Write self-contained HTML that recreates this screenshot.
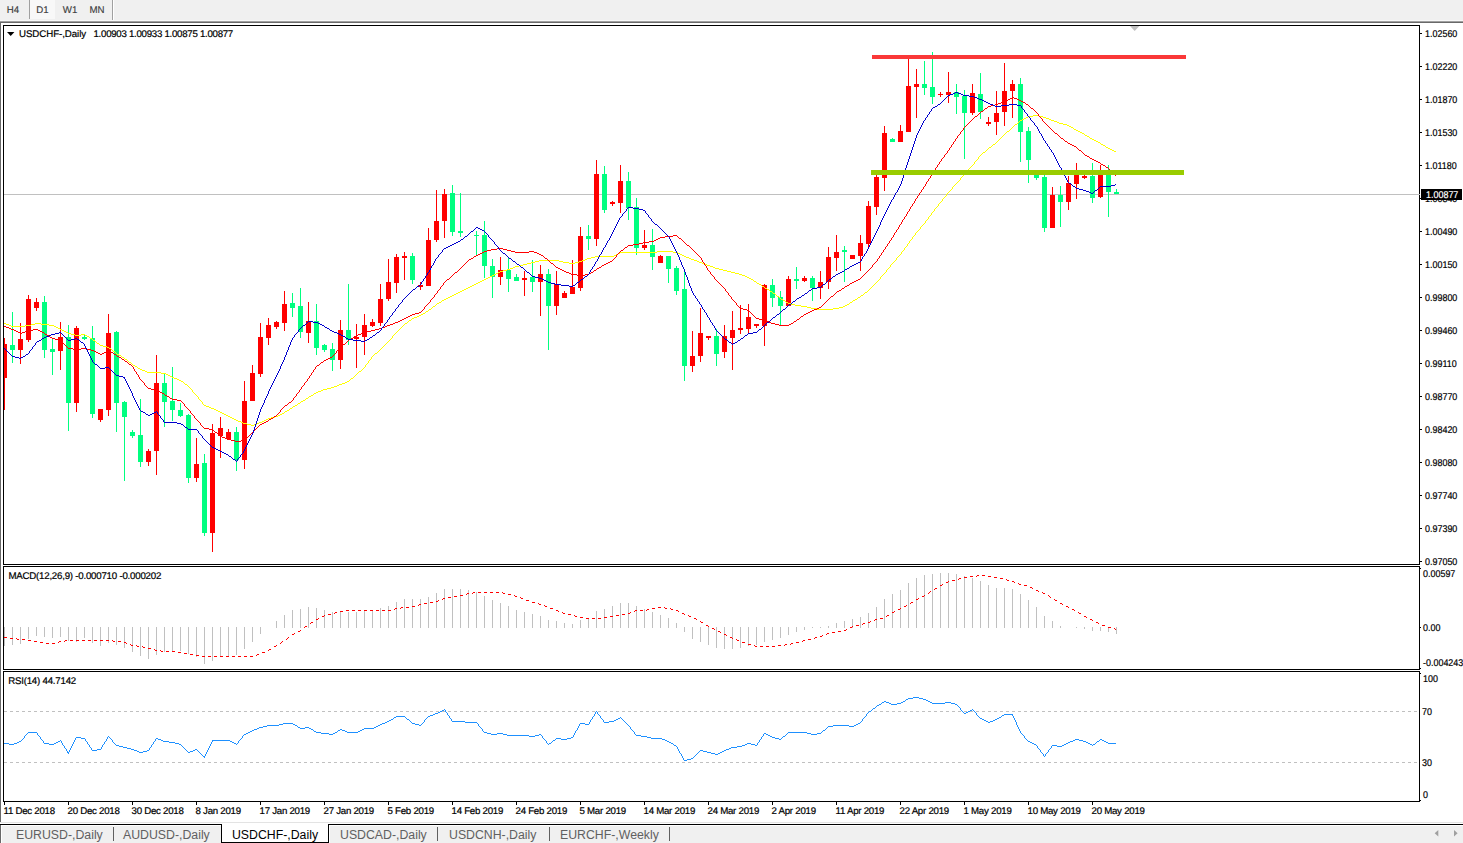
<!DOCTYPE html>
<html><head><meta charset="utf-8"><title>USDCHF-,Daily</title>
<style>
html,body{margin:0;padding:0;background:#fff;}
body{width:1463px;height:843px;position:relative;overflow:hidden;font-family:"Liberation Sans",sans-serif;}
#toolbar{position:absolute;left:0;top:0;width:1463px;height:21px;background:#f0f0f0;}
#tbline1{position:absolute;left:0;top:21px;width:1463px;height:1px;background:#a0a0a0;}
#tbline2{position:absolute;left:0;top:22px;width:1463px;height:1px;background:#696969;}
#tbline3{position:absolute;left:0;top:20px;width:1463px;height:1px;background:#f8f8f8;}
.tb{position:absolute;top:0;height:19px;line-height:22px;font-size:9.7px;color:#404040;text-align:center;text-rendering:geometricPrecision;-webkit-text-stroke:0.15px #404040;}
#d1{background:#f8f8f8;}
.sep{position:absolute;top:0;width:1px;background:#a0a0a0;}
#leftedge{position:absolute;left:0;top:23px;width:1px;height:799px;background:#696969;}
#botl1{position:absolute;left:0;top:822px;width:1463px;height:1px;background:#e3e3e3;}
#tabs{position:absolute;left:0;top:824px;width:1463px;height:19px;background:#f0f0f0;border-top:1px solid #000;box-sizing:border-box;}
.tab{position:absolute;top:1px;height:18px;line-height:19px;font-size:12.3px;color:#606060;white-space:nowrap;}
.hl{position:absolute;background:#fff;}
.tsep{position:absolute;top:2px;width:1px;height:14px;background:#606060;}
#active{position:absolute;left:221px;top:-1px;width:108px;height:19px;background:#fff;border:1px solid #000;border-top:none;box-sizing:border-box;color:#000;font-size:12.3px;line-height:22px;text-align:center;}
svg{position:absolute;left:0;top:0;}
.t{position:absolute;white-space:nowrap;color:#000;line-height:10px;height:10px;text-rendering:geometricPrecision;margin-top:1px;}
.ax{font-size:9.8px;transform:scaleX(.913);transform-origin:0 0;-webkit-text-stroke:0.2px #000;}
.dt{font-size:9.7px;letter-spacing:-0.26px;-webkit-text-stroke:0.2px #000;}
.ti{font-size:9.7px;letter-spacing:-0.22px;-webkit-text-stroke:0.2px #000;}
</style></head><body>
<div id="toolbar">
<div class="tb" style="left:0;width:26px">H4</div>
<div class="sep" style="left:29px;height:19px"></div>
<div class="tb" id="d1" style="left:30px;width:25px">D1</div>
<div class="tb" style="left:58px;width:24px">W1</div>
<div class="tb" style="left:85px;width:24px">MN</div>
<div class="sep" style="left:112px;height:21px"></div><div class="sep" style="left:113px;height:20px;background:#fff"></div>
</div>
<div id="tbline1"></div><div id="tbline2"></div><div id="tbline3"></div>
<div id="leftedge"></div>
<svg width="1463" height="843" viewBox="0 0 1463 843">
<rect x="3" y="25" width="1417" height="1" fill="#000"/>
<rect x="3" y="564" width="1417" height="1" fill="#000"/>
<rect x="3" y="25" width="1" height="540" fill="#000"/>
<rect x="1419" y="25" width="1" height="540" fill="#000"/>
<rect x="3" y="566" width="1417" height="1" fill="#000"/>
<rect x="3" y="669" width="1417" height="1" fill="#000"/>
<rect x="3" y="566" width="1" height="104" fill="#000"/>
<rect x="1419" y="566" width="1" height="104" fill="#000"/>
<rect x="3" y="671" width="1417" height="1" fill="#000"/>
<rect x="3" y="801" width="1417" height="1" fill="#000"/>
<rect x="3" y="671" width="1" height="131" fill="#000"/>
<rect x="1419" y="671" width="1" height="131" fill="#000"/>
<rect x="1420" y="33" width="2" height="1" fill="#000"/>
<rect x="1420" y="66" width="2" height="1" fill="#000"/>
<rect x="1420" y="99" width="2" height="1" fill="#000"/>
<rect x="1420" y="132" width="2" height="1" fill="#000"/>
<rect x="1420" y="165" width="2" height="1" fill="#000"/>
<rect x="1420" y="198" width="2" height="1" fill="#000"/>
<rect x="1420" y="231" width="2" height="1" fill="#000"/>
<rect x="1420" y="264" width="2" height="1" fill="#000"/>
<rect x="1420" y="297" width="2" height="1" fill="#000"/>
<rect x="1420" y="330" width="2" height="1" fill="#000"/>
<rect x="1420" y="363" width="2" height="1" fill="#000"/>
<rect x="1420" y="396" width="2" height="1" fill="#000"/>
<rect x="1420" y="429" width="2" height="1" fill="#000"/>
<rect x="1420" y="462" width="2" height="1" fill="#000"/>
<rect x="1420" y="495" width="2" height="1" fill="#000"/>
<rect x="1420" y="528" width="2" height="1" fill="#000"/>
<rect x="1420" y="561" width="2" height="1" fill="#000"/>
<rect x="1420" y="568" width="1" height="1" fill="#000"/>
<rect x="1420" y="627" width="1" height="1" fill="#000"/>
<rect x="1420" y="668" width="1" height="1" fill="#000"/>
<rect x="1420" y="673" width="1" height="1" fill="#000"/>
<rect x="1420" y="800" width="1" height="1" fill="#000"/>
<rect x="4" y="802" width="1" height="3" fill="#000"/>
<rect x="68" y="802" width="1" height="3" fill="#000"/>
<rect x="132" y="802" width="1" height="3" fill="#000"/>
<rect x="196" y="802" width="1" height="3" fill="#000"/>
<rect x="260" y="802" width="1" height="3" fill="#000"/>
<rect x="324" y="802" width="1" height="3" fill="#000"/>
<rect x="388" y="802" width="1" height="3" fill="#000"/>
<rect x="452" y="802" width="1" height="3" fill="#000"/>
<rect x="516" y="802" width="1" height="3" fill="#000"/>
<rect x="580" y="802" width="1" height="3" fill="#000"/>
<rect x="644" y="802" width="1" height="3" fill="#000"/>
<rect x="708" y="802" width="1" height="3" fill="#000"/>
<rect x="772" y="802" width="1" height="3" fill="#000"/>
<rect x="836" y="802" width="1" height="3" fill="#000"/>
<rect x="900" y="802" width="1" height="3" fill="#000"/>
<rect x="964" y="802" width="1" height="3" fill="#000"/>
<rect x="1028" y="802" width="1" height="3" fill="#000"/>
<rect x="1092" y="802" width="1" height="3" fill="#000"/>
<rect x="4" y="194" width="1416" height="1" fill="#c0c0c0"/>
<path d="M1130 26h9.4l-4.7 5z" fill="#c0c0c0"/>
<clipPath id="cm"><rect x="4" y="26" width="1415" height="538"/></clipPath>
<g clip-path="url(#cm)" shape-rendering="crispEdges">
<rect x="4" y="338" width="1" height="72" fill="#ff0000"/>
<rect x="2" y="344" width="5" height="34" fill="#ff0000"/>
<rect x="12" y="312" width="1" height="51" fill="#00ff80"/>
<rect x="10" y="345" width="5" height="5" fill="#00ff80"/>
<rect x="20" y="323" width="1" height="41" fill="#ff0000"/>
<rect x="18" y="339" width="5" height="11" fill="#ff0000"/>
<rect x="28" y="295" width="1" height="47" fill="#ff0000"/>
<rect x="26" y="299" width="5" height="41" fill="#ff0000"/>
<rect x="36" y="298" width="1" height="13" fill="#ff0000"/>
<rect x="34" y="302" width="5" height="6" fill="#ff0000"/>
<rect x="44" y="296" width="1" height="62" fill="#00ff80"/>
<rect x="42" y="302" width="5" height="48" fill="#00ff80"/>
<rect x="52" y="339" width="1" height="36" fill="#00ff80"/>
<rect x="50" y="349" width="5" height="3" fill="#00ff80"/>
<rect x="60" y="322" width="1" height="48" fill="#ff0000"/>
<rect x="58" y="337" width="5" height="14" fill="#ff0000"/>
<rect x="68" y="325" width="1" height="106" fill="#00ff80"/>
<rect x="66" y="337" width="5" height="66" fill="#00ff80"/>
<rect x="76" y="326" width="1" height="86" fill="#ff0000"/>
<rect x="74" y="328" width="5" height="75" fill="#ff0000"/>
<rect x="84" y="335" width="1" height="5" fill="#00ff80"/>
<rect x="82" y="337" width="5" height="2" fill="#00ff80"/>
<rect x="92" y="326" width="1" height="92" fill="#00ff80"/>
<rect x="90" y="338" width="5" height="76" fill="#00ff80"/>
<rect x="100" y="409" width="1" height="13" fill="#ff0000"/>
<rect x="98" y="409" width="5" height="11" fill="#ff0000"/>
<rect x="108" y="314" width="1" height="102" fill="#ff0000"/>
<rect x="106" y="333" width="5" height="77" fill="#ff0000"/>
<rect x="116" y="331" width="1" height="101" fill="#00ff80"/>
<rect x="114" y="332" width="5" height="71" fill="#00ff80"/>
<rect x="124" y="401" width="1" height="80" fill="#00ff80"/>
<rect x="122" y="402" width="5" height="15" fill="#00ff80"/>
<rect x="132" y="430" width="1" height="8" fill="#00ff80"/>
<rect x="130" y="432" width="5" height="4" fill="#00ff80"/>
<rect x="140" y="399" width="1" height="68" fill="#00ff80"/>
<rect x="138" y="435" width="5" height="27" fill="#00ff80"/>
<rect x="148" y="449" width="1" height="17" fill="#ff0000"/>
<rect x="146" y="451" width="5" height="11" fill="#ff0000"/>
<rect x="156" y="355" width="1" height="120" fill="#ff0000"/>
<rect x="154" y="383" width="5" height="68" fill="#ff0000"/>
<rect x="164" y="374" width="1" height="53" fill="#00ff80"/>
<rect x="162" y="383" width="5" height="19" fill="#00ff80"/>
<rect x="172" y="367" width="1" height="54" fill="#00ff80"/>
<rect x="170" y="401" width="5" height="9" fill="#00ff80"/>
<rect x="180" y="403" width="1" height="14" fill="#00ff80"/>
<rect x="178" y="410" width="5" height="6" fill="#00ff80"/>
<rect x="188" y="414" width="1" height="69" fill="#00ff80"/>
<rect x="186" y="415" width="5" height="63" fill="#00ff80"/>
<rect x="196" y="438" width="1" height="44" fill="#ff0000"/>
<rect x="194" y="464" width="5" height="14" fill="#ff0000"/>
<rect x="204" y="454" width="1" height="82" fill="#00ff80"/>
<rect x="202" y="463" width="5" height="70" fill="#00ff80"/>
<rect x="212" y="424" width="1" height="128" fill="#ff0000"/>
<rect x="210" y="433" width="5" height="100" fill="#ff0000"/>
<rect x="220" y="417" width="1" height="41" fill="#ff0000"/>
<rect x="218" y="428" width="5" height="8" fill="#ff0000"/>
<rect x="228" y="429" width="1" height="10" fill="#ff0000"/>
<rect x="226" y="432" width="5" height="7" fill="#ff0000"/>
<rect x="236" y="427" width="1" height="44" fill="#00ff80"/>
<rect x="234" y="432" width="5" height="28" fill="#00ff80"/>
<rect x="244" y="381" width="1" height="88" fill="#ff0000"/>
<rect x="242" y="401" width="5" height="59" fill="#ff0000"/>
<rect x="252" y="365" width="1" height="36" fill="#ff0000"/>
<rect x="250" y="373" width="5" height="28" fill="#ff0000"/>
<rect x="260" y="323" width="1" height="54" fill="#ff0000"/>
<rect x="258" y="337" width="5" height="37" fill="#ff0000"/>
<rect x="268" y="318" width="1" height="27" fill="#ff0000"/>
<rect x="266" y="325" width="5" height="13" fill="#ff0000"/>
<rect x="276" y="321" width="1" height="8" fill="#ff0000"/>
<rect x="274" y="322" width="5" height="5" fill="#ff0000"/>
<rect x="284" y="291" width="1" height="40" fill="#ff0000"/>
<rect x="282" y="304" width="5" height="19" fill="#ff0000"/>
<rect x="292" y="293" width="1" height="24" fill="#00ff80"/>
<rect x="290" y="303" width="5" height="5" fill="#00ff80"/>
<rect x="300" y="288" width="1" height="50" fill="#00ff80"/>
<rect x="298" y="306" width="5" height="26" fill="#00ff80"/>
<rect x="308" y="302" width="1" height="41" fill="#ff0000"/>
<rect x="306" y="321" width="5" height="12" fill="#ff0000"/>
<rect x="316" y="304" width="1" height="51" fill="#00ff80"/>
<rect x="314" y="321" width="5" height="27" fill="#00ff80"/>
<rect x="324" y="344" width="1" height="8" fill="#00ff80"/>
<rect x="322" y="345" width="5" height="5" fill="#00ff80"/>
<rect x="332" y="343" width="1" height="28" fill="#00ff80"/>
<rect x="330" y="349" width="5" height="11" fill="#00ff80"/>
<rect x="340" y="320" width="1" height="49" fill="#ff0000"/>
<rect x="338" y="330" width="5" height="30" fill="#ff0000"/>
<rect x="348" y="284" width="1" height="61" fill="#00ff80"/>
<rect x="346" y="330" width="5" height="10" fill="#00ff80"/>
<rect x="356" y="324" width="1" height="44" fill="#ff0000"/>
<rect x="354" y="337" width="5" height="2" fill="#ff0000"/>
<rect x="364" y="314" width="1" height="41" fill="#ff0000"/>
<rect x="362" y="325" width="5" height="12" fill="#ff0000"/>
<rect x="372" y="319" width="1" height="8" fill="#ff0000"/>
<rect x="370" y="322" width="5" height="4" fill="#ff0000"/>
<rect x="380" y="284" width="1" height="42" fill="#ff0000"/>
<rect x="378" y="299" width="5" height="24" fill="#ff0000"/>
<rect x="388" y="259" width="1" height="42" fill="#ff0000"/>
<rect x="386" y="282" width="5" height="17" fill="#ff0000"/>
<rect x="396" y="254" width="1" height="39" fill="#ff0000"/>
<rect x="394" y="257" width="5" height="26" fill="#ff0000"/>
<rect x="404" y="252" width="1" height="28" fill="#ff0000"/>
<rect x="402" y="256" width="5" height="2" fill="#ff0000"/>
<rect x="412" y="253" width="1" height="31" fill="#00ff80"/>
<rect x="410" y="256" width="5" height="24" fill="#00ff80"/>
<rect x="420" y="282" width="1" height="8" fill="#ff0000"/>
<rect x="418" y="285" width="5" height="2" fill="#ff0000"/>
<rect x="428" y="228" width="1" height="58" fill="#ff0000"/>
<rect x="426" y="240" width="5" height="46" fill="#ff0000"/>
<rect x="436" y="190" width="1" height="52" fill="#ff0000"/>
<rect x="434" y="221" width="5" height="19" fill="#ff0000"/>
<rect x="444" y="189" width="1" height="49" fill="#ff0000"/>
<rect x="442" y="194" width="5" height="27" fill="#ff0000"/>
<rect x="452" y="185" width="1" height="51" fill="#00ff80"/>
<rect x="450" y="193" width="5" height="39" fill="#00ff80"/>
<rect x="460" y="193" width="1" height="44" fill="#00ff80"/>
<rect x="458" y="231" width="5" height="2" fill="#00ff80"/>
<rect x="476" y="231" width="1" height="24" fill="#00ff80"/>
<rect x="474" y="235" width="5" height="1" fill="#00ff80"/>
<rect x="484" y="221" width="1" height="57" fill="#00ff80"/>
<rect x="482" y="235" width="5" height="31" fill="#00ff80"/>
<rect x="492" y="259" width="1" height="39" fill="#00ff80"/>
<rect x="490" y="266" width="5" height="11" fill="#00ff80"/>
<rect x="500" y="257" width="1" height="28" fill="#ff0000"/>
<rect x="498" y="270" width="5" height="7" fill="#ff0000"/>
<rect x="508" y="257" width="1" height="35" fill="#00ff80"/>
<rect x="506" y="270" width="5" height="9" fill="#00ff80"/>
<rect x="516" y="274" width="1" height="7" fill="#00ff80"/>
<rect x="514" y="277" width="5" height="4" fill="#00ff80"/>
<rect x="524" y="271" width="1" height="25" fill="#ff0000"/>
<rect x="522" y="278" width="5" height="2" fill="#ff0000"/>
<rect x="532" y="260" width="1" height="32" fill="#00ff80"/>
<rect x="530" y="277" width="5" height="5" fill="#00ff80"/>
<rect x="540" y="265" width="1" height="51" fill="#ff0000"/>
<rect x="538" y="274" width="5" height="8" fill="#ff0000"/>
<rect x="548" y="269" width="1" height="81" fill="#00ff80"/>
<rect x="546" y="274" width="5" height="32" fill="#00ff80"/>
<rect x="556" y="271" width="1" height="44" fill="#ff0000"/>
<rect x="554" y="284" width="5" height="22" fill="#ff0000"/>
<rect x="564" y="291" width="1" height="7" fill="#ff0000"/>
<rect x="562" y="293" width="5" height="5" fill="#ff0000"/>
<rect x="572" y="260" width="1" height="34" fill="#ff0000"/>
<rect x="570" y="287" width="5" height="7" fill="#ff0000"/>
<rect x="580" y="227" width="1" height="64" fill="#ff0000"/>
<rect x="578" y="236" width="5" height="52" fill="#ff0000"/>
<rect x="588" y="225" width="1" height="25" fill="#00ff80"/>
<rect x="586" y="236" width="5" height="3" fill="#00ff80"/>
<rect x="596" y="160" width="1" height="86" fill="#ff0000"/>
<rect x="594" y="174" width="5" height="65" fill="#ff0000"/>
<rect x="604" y="166" width="1" height="47" fill="#00ff80"/>
<rect x="602" y="174" width="5" height="36" fill="#00ff80"/>
<rect x="612" y="201" width="1" height="5" fill="#ff0000"/>
<rect x="610" y="202" width="5" height="2" fill="#ff0000"/>
<rect x="620" y="165" width="1" height="48" fill="#ff0000"/>
<rect x="618" y="181" width="5" height="22" fill="#ff0000"/>
<rect x="628" y="172" width="1" height="48" fill="#00ff80"/>
<rect x="626" y="181" width="5" height="27" fill="#00ff80"/>
<rect x="636" y="198" width="1" height="57" fill="#00ff80"/>
<rect x="634" y="207" width="5" height="41" fill="#00ff80"/>
<rect x="644" y="230" width="1" height="20" fill="#ff0000"/>
<rect x="642" y="245" width="5" height="3" fill="#ff0000"/>
<rect x="652" y="229" width="1" height="41" fill="#00ff80"/>
<rect x="650" y="245" width="5" height="12" fill="#00ff80"/>
<rect x="660" y="255" width="1" height="8" fill="#ff0000"/>
<rect x="658" y="256" width="5" height="7" fill="#ff0000"/>
<rect x="668" y="256" width="1" height="27" fill="#00ff80"/>
<rect x="666" y="256" width="5" height="13" fill="#00ff80"/>
<rect x="676" y="266" width="1" height="29" fill="#00ff80"/>
<rect x="674" y="268" width="5" height="23" fill="#00ff80"/>
<rect x="684" y="270" width="1" height="111" fill="#00ff80"/>
<rect x="682" y="289" width="5" height="77" fill="#00ff80"/>
<rect x="692" y="331" width="1" height="41" fill="#ff0000"/>
<rect x="690" y="356" width="5" height="10" fill="#ff0000"/>
<rect x="700" y="308" width="1" height="54" fill="#ff0000"/>
<rect x="698" y="333" width="5" height="23" fill="#ff0000"/>
<rect x="708" y="336" width="1" height="4" fill="#ff0000"/>
<rect x="706" y="336" width="5" height="2" fill="#ff0000"/>
<rect x="716" y="329" width="1" height="37" fill="#00ff80"/>
<rect x="714" y="336" width="5" height="18" fill="#00ff80"/>
<rect x="724" y="325" width="1" height="33" fill="#ff0000"/>
<rect x="722" y="336" width="5" height="16" fill="#ff0000"/>
<rect x="732" y="311" width="1" height="59" fill="#ff0000"/>
<rect x="730" y="330" width="5" height="8" fill="#ff0000"/>
<rect x="740" y="305" width="1" height="29" fill="#ff0000"/>
<rect x="738" y="328" width="5" height="2" fill="#ff0000"/>
<rect x="748" y="304" width="1" height="29" fill="#ff0000"/>
<rect x="746" y="317" width="5" height="12" fill="#ff0000"/>
<rect x="756" y="324" width="1" height="4" fill="#ff0000"/>
<rect x="754" y="324" width="5" height="2" fill="#ff0000"/>
<rect x="764" y="284" width="1" height="62" fill="#ff0000"/>
<rect x="762" y="285" width="5" height="41" fill="#ff0000"/>
<rect x="772" y="279" width="1" height="28" fill="#00ff80"/>
<rect x="770" y="285" width="5" height="13" fill="#00ff80"/>
<rect x="780" y="291" width="1" height="34" fill="#00ff80"/>
<rect x="778" y="297" width="5" height="9" fill="#00ff80"/>
<rect x="788" y="276" width="1" height="30" fill="#ff0000"/>
<rect x="786" y="279" width="5" height="27" fill="#ff0000"/>
<rect x="796" y="267" width="1" height="22" fill="#00ff80"/>
<rect x="794" y="279" width="5" height="2" fill="#00ff80"/>
<rect x="804" y="276" width="1" height="6" fill="#ff0000"/>
<rect x="802" y="278" width="5" height="3" fill="#ff0000"/>
<rect x="812" y="276" width="1" height="25" fill="#00ff80"/>
<rect x="810" y="278" width="5" height="10" fill="#00ff80"/>
<rect x="820" y="271" width="1" height="28" fill="#ff0000"/>
<rect x="818" y="282" width="5" height="6" fill="#ff0000"/>
<rect x="828" y="247" width="1" height="42" fill="#ff0000"/>
<rect x="826" y="257" width="5" height="25" fill="#ff0000"/>
<rect x="836" y="235" width="1" height="36" fill="#ff0000"/>
<rect x="834" y="252" width="5" height="6" fill="#ff0000"/>
<rect x="844" y="246" width="1" height="36" fill="#00ff80"/>
<rect x="842" y="250" width="5" height="2" fill="#00ff80"/>
<rect x="852" y="255" width="1" height="4" fill="#ff0000"/>
<rect x="850" y="255" width="5" height="4" fill="#ff0000"/>
<rect x="860" y="235" width="1" height="36" fill="#ff0000"/>
<rect x="858" y="243" width="5" height="13" fill="#ff0000"/>
<rect x="868" y="201" width="1" height="48" fill="#ff0000"/>
<rect x="866" y="206" width="5" height="38" fill="#ff0000"/>
<rect x="876" y="173" width="1" height="42" fill="#ff0000"/>
<rect x="874" y="177" width="5" height="30" fill="#ff0000"/>
<rect x="884" y="126" width="1" height="65" fill="#ff0000"/>
<rect x="882" y="133" width="5" height="45" fill="#ff0000"/>
<rect x="892" y="138" width="1" height="4" fill="#00ff80"/>
<rect x="890" y="139" width="5" height="3" fill="#00ff80"/>
<rect x="900" y="125" width="1" height="17" fill="#ff0000"/>
<rect x="898" y="131" width="5" height="11" fill="#ff0000"/>
<rect x="908" y="59" width="1" height="73" fill="#ff0000"/>
<rect x="906" y="86" width="5" height="46" fill="#ff0000"/>
<rect x="916" y="69" width="1" height="49" fill="#ff0000"/>
<rect x="914" y="84" width="5" height="3" fill="#ff0000"/>
<rect x="924" y="61" width="1" height="34" fill="#00ff80"/>
<rect x="922" y="84" width="5" height="4" fill="#00ff80"/>
<rect x="932" y="52" width="1" height="52" fill="#00ff80"/>
<rect x="930" y="87" width="5" height="10" fill="#00ff80"/>
<rect x="940" y="92" width="1" height="5" fill="#ff0000"/>
<rect x="938" y="94" width="5" height="1" fill="#ff0000"/>
<rect x="948" y="72" width="1" height="31" fill="#ff0000"/>
<rect x="946" y="92" width="5" height="3" fill="#ff0000"/>
<rect x="956" y="84" width="1" height="30" fill="#00ff80"/>
<rect x="954" y="92" width="5" height="5" fill="#00ff80"/>
<rect x="964" y="90" width="1" height="69" fill="#00ff80"/>
<rect x="962" y="96" width="5" height="17" fill="#00ff80"/>
<rect x="972" y="84" width="1" height="31" fill="#ff0000"/>
<rect x="970" y="93" width="5" height="20" fill="#ff0000"/>
<rect x="980" y="73" width="1" height="46" fill="#00ff80"/>
<rect x="978" y="94" width="5" height="18" fill="#00ff80"/>
<rect x="988" y="117" width="1" height="9" fill="#ff0000"/>
<rect x="986" y="122" width="5" height="2" fill="#ff0000"/>
<rect x="996" y="91" width="1" height="44" fill="#ff0000"/>
<rect x="994" y="113" width="5" height="9" fill="#ff0000"/>
<rect x="1004" y="63" width="1" height="63" fill="#ff0000"/>
<rect x="1002" y="91" width="5" height="21" fill="#ff0000"/>
<rect x="1012" y="80" width="1" height="38" fill="#ff0000"/>
<rect x="1010" y="84" width="5" height="7" fill="#ff0000"/>
<rect x="1020" y="78" width="1" height="84" fill="#00ff80"/>
<rect x="1018" y="84" width="5" height="48" fill="#00ff80"/>
<rect x="1028" y="127" width="1" height="56" fill="#00ff80"/>
<rect x="1026" y="131" width="5" height="29" fill="#00ff80"/>
<rect x="1036" y="170" width="1" height="10" fill="#00ff80"/>
<rect x="1034" y="171" width="5" height="7" fill="#00ff80"/>
<rect x="1044" y="175" width="1" height="57" fill="#00ff80"/>
<rect x="1042" y="177" width="5" height="51" fill="#00ff80"/>
<rect x="1052" y="187" width="1" height="41" fill="#ff0000"/>
<rect x="1050" y="195" width="5" height="33" fill="#ff0000"/>
<rect x="1060" y="186" width="1" height="41" fill="#00ff80"/>
<rect x="1058" y="195" width="5" height="7" fill="#00ff80"/>
<rect x="1068" y="176" width="1" height="34" fill="#ff0000"/>
<rect x="1066" y="183" width="5" height="19" fill="#ff0000"/>
<rect x="1076" y="163" width="1" height="36" fill="#ff0000"/>
<rect x="1074" y="172" width="5" height="12" fill="#ff0000"/>
<rect x="1084" y="175" width="1" height="4" fill="#ff0000"/>
<rect x="1082" y="176" width="5" height="2" fill="#ff0000"/>
<rect x="1092" y="163" width="1" height="40" fill="#00ff80"/>
<rect x="1090" y="176" width="5" height="22" fill="#00ff80"/>
<rect x="1100" y="165" width="1" height="33" fill="#ff0000"/>
<rect x="1098" y="172" width="5" height="25" fill="#ff0000"/>
<rect x="1108" y="165" width="1" height="52" fill="#00ff80"/>
<rect x="1106" y="172" width="5" height="20" fill="#00ff80"/>
<rect x="1116" y="189" width="1" height="5" fill="#00ff80"/>
<rect x="1114" y="192" width="5" height="2" fill="#00ff80"/>
<path d="M1033 115h6v1h-6zM1028 116h5v1h-5zM1039 116h4v1h-4zM1026 117h2v1h-2zM1043 117h3v1h-3zM1024 118h2v1h-2zM1046 118h3v1h-3zM1022 119h2v1h-2zM1049 119h2v1h-2zM1020 120h2v1h-2zM1051 120h3v1h-3zM1019 121h1v1h-1zM1054 121h3v1h-3zM1018 122h1v1h-1zM1057 122h2v1h-2zM1017 123h1v1h-1zM1059 123h4v1h-4zM1015 124h2v1h-2zM1063 124h4v1h-4zM1014 125h1v1h-1zM1067 125h2v1h-2zM1013 126h1v1h-1zM1069 126h2v1h-2zM1012 127h1v1h-1zM1071 127h2v1h-2zM1011 128h1v1h-1zM1073 128h1v1h-1zM1010 129h1v1h-1zM1074 129h2v1h-2zM1009 130h1v1h-1zM1076 130h2v1h-2zM1007 131h2v1h-2zM1078 131h2v1h-2zM1006 132h1v1h-1zM1080 132h2v1h-2zM1005 133h1v1h-1zM1082 133h2v1h-2zM1004 134h1v1h-1zM1084 134h1v1h-1zM1003 135h1v1h-1zM1085 135h2v1h-2zM1002 136h1v1h-1zM1087 136h2v1h-2zM1001 137h1v1h-1zM1089 137h1v1h-1zM1000 138h1v1h-1zM1090 138h2v1h-2zM999 139h1v1h-1zM1092 139h2v1h-2zM998 140h1v1h-1zM1094 140h2v1h-2zM997 141h1v1h-1zM1096 141h2v1h-2zM996 142h1v1h-1zM1098 142h2v1h-2zM995 143h1v1h-1zM1100 143h1v1h-1zM993 144h2v1h-2zM1101 144h2v1h-2zM992 145h1v1h-1zM1103 145h2v1h-2zM991 146h1v1h-1zM1105 146h1v1h-1zM989 147h2v1h-2zM1106 147h2v1h-2zM988 148h1v1h-1zM1108 148h2v1h-2zM987 149h1v1h-1zM1110 149h2v1h-2zM986 150h1v1h-1zM1112 150h2v1h-2zM985 151h1v1h-1zM1114 151h2v1h-2zM983 152h2v1h-2zM982 153h1v1h-1zM981 154h1v1h-1zM980 155h1v1h-1zM979 156h1v1h-1zM978 157v2h1v-2zM977 159h1v1h-1zM976 160h1v1h-1zM975 161h1v1h-1zM974 162v2h1v-2zM973 164h1v1h-1zM972 165h1v1h-1zM971 166h1v1h-1zM970 167h1v1h-1zM969 168h1v1h-1zM968 169v2h1v-2zM967 171h1v1h-1zM966 172h1v1h-1zM965 173h1v1h-1zM964 174h1v1h-1zM963 175h1v1h-1zM962 176h1v1h-1zM961 177h1v1h-1zM960 178v2h1v-2zM959 180h1v1h-1zM958 181h1v1h-1zM957 182h1v1h-1zM956 183h1v1h-1zM955 184h1v1h-1zM954 185h1v1h-1zM953 186h1v1h-1zM952 187v2h1v-2zM951 189h1v1h-1zM950 190h1v1h-1zM949 191h1v1h-1zM948 192h1v1h-1zM947 193h1v1h-1zM946 194v2h1v-2zM945 196h1v1h-1zM944 197h1v1h-1zM943 198h1v1h-1zM942 199v2h1v-2zM941 201h1v1h-1zM940 202h1v1h-1zM939 203h1v1h-1zM938 204v2h1v-2zM937 206h1v1h-1zM936 207h1v1h-1zM935 208h1v1h-1zM934 209v2h1v-2zM933 211h1v1h-1zM932 212h1v1h-1zM931 213v2h1v-2zM930 215h1v1h-1zM929 216h1v1h-1zM928 217v2h1v-2zM927 219h1v1h-1zM926 220h1v1h-1zM925 221v2h1v-2zM924 223h1v1h-1zM923 224h1v1h-1zM922 225h1v1h-1zM921 226h1v1h-1zM920 227v2h1v-2zM919 229h1v1h-1zM918 230h1v1h-1zM917 231h1v1h-1zM916 232h1v1h-1zM915 233v2h1v-2zM914 235h1v1h-1zM913 236h1v1h-1zM912 237v2h1v-2zM911 239h1v1h-1zM910 240h1v1h-1zM909 241v2h1v-2zM908 243h1v1h-1zM907 244v2h1v-2zM906 246h1v1h-1zM905 247h1v1h-1zM904 248v2h1v-2zM903 250h1v1h-1zM657 251h16v1h-16zM902 251h1v1h-1zM620 252h37v1h-37zM673 252h5v1h-5zM901 252v2h1v-2zM618 253h2v1h-2zM678 253h2v1h-2zM616 254h2v1h-2zM680 254h2v1h-2zM900 254h1v1h-1zM614 255h2v1h-2zM682 255h2v1h-2zM899 255h1v1h-1zM595 256h19v1h-19zM684 256h2v1h-2zM898 256h1v1h-1zM591 257h4v1h-4zM686 257h3v1h-3zM897 257h1v1h-1zM587 258h4v1h-4zM689 258h2v1h-2zM896 258v2h1v-2zM585 259h2v1h-2zM691 259h3v1h-3zM539 260h20v1h-20zM582 260h3v1h-3zM694 260h3v1h-3zM895 260h1v1h-1zM535 261h4v1h-4zM559 261h4v1h-4zM579 261h3v1h-3zM697 261h2v1h-2zM894 261h1v1h-1zM531 262h4v1h-4zM563 262h6v1h-6zM575 262h4v1h-4zM699 262h3v1h-3zM893 262h1v1h-1zM527 263h4v1h-4zM569 263h6v1h-6zM702 263h3v1h-3zM892 263h1v1h-1zM523 264h4v1h-4zM705 264h2v1h-2zM891 264h1v1h-1zM519 265h4v1h-4zM707 265h3v1h-3zM890 265v2h1v-2zM515 266h4v1h-4zM710 266h3v1h-3zM513 267h2v1h-2zM713 267h2v1h-2zM889 267h1v1h-1zM510 268h3v1h-3zM715 268h4v1h-4zM888 268h1v1h-1zM507 269h3v1h-3zM719 269h4v1h-4zM887 269h1v1h-1zM503 270h4v1h-4zM723 270h4v1h-4zM886 270v2h1v-2zM500 271h3v1h-3zM727 271h4v1h-4zM498 272h2v1h-2zM731 272h4v1h-4zM885 272h1v1h-1zM496 273h2v1h-2zM735 273h4v1h-4zM884 273h1v1h-1zM494 274h2v1h-2zM739 274h3v1h-3zM883 274h1v1h-1zM492 275h2v1h-2zM742 275h3v1h-3zM882 275h1v1h-1zM490 276h2v1h-2zM745 276h2v1h-2zM881 276h1v1h-1zM488 277h2v1h-2zM747 277h2v1h-2zM880 277v2h1v-2zM486 278h2v1h-2zM749 278h2v1h-2zM484 279h2v1h-2zM751 279h2v1h-2zM879 279h1v1h-1zM482 280h2v1h-2zM753 280h1v1h-1zM878 280h1v1h-1zM480 281h2v1h-2zM754 281h2v1h-2zM877 281h1v1h-1zM478 282h2v1h-2zM756 282h1v1h-1zM876 282h1v1h-1zM476 283h2v1h-2zM757 283h2v1h-2zM875 283h1v1h-1zM474 284h2v1h-2zM759 284h2v1h-2zM874 284h1v1h-1zM472 285h2v1h-2zM761 285h1v1h-1zM873 285h1v1h-1zM470 286h2v1h-2zM762 286h2v1h-2zM872 286h1v1h-1zM468 287h2v1h-2zM764 287h1v1h-1zM871 287h1v1h-1zM466 288h2v1h-2zM765 288h2v1h-2zM870 288h1v1h-1zM464 289h2v1h-2zM767 289h2v1h-2zM869 289h1v1h-1zM462 290h2v1h-2zM769 290h1v1h-1zM868 290h1v1h-1zM460 291h2v1h-2zM770 291h2v1h-2zM867 291h1v1h-1zM458 292h2v1h-2zM772 292h1v1h-1zM865 292h2v1h-2zM456 293h2v1h-2zM773 293h2v1h-2zM864 293h1v1h-1zM454 294h2v1h-2zM775 294h1v1h-1zM863 294h1v1h-1zM452 295h2v1h-2zM776 295h1v1h-1zM861 295h2v1h-2zM450 296h2v1h-2zM777 296h2v1h-2zM860 296h1v1h-1zM448 297h2v1h-2zM779 297h1v1h-1zM858 297h2v1h-2zM446 298h2v1h-2zM780 298h1v1h-1zM857 298h1v1h-1zM444 299h2v1h-2zM781 299h2v1h-2zM855 299h2v1h-2zM442 300h2v1h-2zM783 300h2v1h-2zM853 300h2v1h-2zM441 301h1v1h-1zM785 301h1v1h-1zM852 301h1v1h-1zM439 302h2v1h-2zM786 302h2v1h-2zM850 302h2v1h-2zM437 303h2v1h-2zM788 303h3v1h-3zM849 303h1v1h-1zM436 304h1v1h-1zM791 304h4v1h-4zM847 304h2v1h-2zM435 305h1v1h-1zM795 305h6v1h-6zM845 305h2v1h-2zM433 306h2v1h-2zM801 306h6v1h-6zM843 306h2v1h-2zM432 307h1v1h-1zM807 307h4v1h-4zM839 307h4v1h-4zM431 308h1v1h-1zM811 308h6v1h-6zM833 308h6v1h-6zM429 309h2v1h-2zM817 309h16v1h-16zM428 310h1v1h-1zM426 311h2v1h-2zM425 312h1v1h-1zM423 313h2v1h-2zM421 314h2v1h-2zM419 315h2v1h-2zM417 316h2v1h-2zM414 317h3v1h-3zM412 318h2v1h-2zM411 319h1v1h-1zM409 320h2v1h-2zM408 321h1v1h-1zM407 322h1v1h-1zM4 323h2v1h-2zM35 323h6v1h-6zM405 323h2v1h-2zM6 324h3v1h-3zM31 324h4v1h-4zM41 324h8v1h-8zM404 324h1v1h-1zM9 325h2v1h-2zM25 325h6v1h-6zM49 325h5v1h-5zM403 325h1v1h-1zM11 326h14v1h-14zM54 326h2v1h-2zM402 326h1v1h-1zM56 327h2v1h-2zM401 327h1v1h-1zM58 328h2v1h-2zM400 328h1v1h-1zM60 329h2v1h-2zM399 329h1v1h-1zM62 330h2v1h-2zM398 330h1v1h-1zM64 331h2v1h-2zM397 331h1v1h-1zM66 332h2v1h-2zM396 332h1v1h-1zM68 333h3v1h-3zM395 333h1v1h-1zM71 334h4v1h-4zM81 334h4v1h-4zM394 334h1v1h-1zM75 335h6v1h-6zM85 335h2v1h-2zM393 335h1v1h-1zM87 336h2v1h-2zM392 336v2h1v-2zM89 337h1v1h-1zM90 338h2v1h-2zM391 338h1v1h-1zM92 339h1v1h-1zM390 339h1v1h-1zM93 340h2v1h-2zM389 340h1v1h-1zM95 341h1v1h-1zM388 341h1v1h-1zM96 342h1v1h-1zM387 342h1v1h-1zM97 343h2v1h-2zM386 343h1v1h-1zM99 344h1v1h-1zM385 344h1v1h-1zM100 345h3v1h-3zM384 345h1v1h-1zM103 346h4v1h-4zM383 346h1v1h-1zM107 347h2v1h-2zM382 347h1v1h-1zM109 348h2v1h-2zM381 348h1v1h-1zM111 349h1v1h-1zM380 349h1v1h-1zM112 350h1v1h-1zM379 350h1v1h-1zM113 351h2v1h-2zM378 351h1v1h-1zM115 352h1v1h-1zM377 352h1v1h-1zM116 353h1v1h-1zM375 353h2v1h-2zM117 354h2v1h-2zM374 354h1v1h-1zM119 355h2v1h-2zM373 355h1v1h-1zM121 356h1v1h-1zM372 356h1v1h-1zM122 357h2v1h-2zM371 357v2h1v-2zM124 358h1v1h-1zM125 359h2v1h-2zM370 359h1v1h-1zM127 360h1v1h-1zM369 360h1v1h-1zM128 361h1v1h-1zM368 361v2h1v-2zM129 362h2v1h-2zM131 363h1v1h-1zM367 363h1v1h-1zM132 364h1v1h-1zM366 364h1v1h-1zM133 365h2v1h-2zM365 365v2h1v-2zM135 366h2v1h-2zM137 367h1v1h-1zM364 367h1v1h-1zM138 368h2v1h-2zM363 368h1v1h-1zM140 369h2v1h-2zM362 369h1v1h-1zM142 370h3v1h-3zM361 370h1v1h-1zM145 371h2v1h-2zM359 371h2v1h-2zM147 372h14v1h-14zM358 372h1v1h-1zM161 373h5v1h-5zM357 373h1v1h-1zM166 374h2v1h-2zM356 374h1v1h-1zM168 375h2v1h-2zM355 375h1v1h-1zM170 376h2v1h-2zM354 376h1v1h-1zM172 377h2v1h-2zM353 377h1v1h-1zM174 378h3v1h-3zM351 378h2v1h-2zM177 379h2v1h-2zM350 379h1v1h-1zM179 380h2v1h-2zM349 380h1v1h-1zM181 381h2v1h-2zM347 381h2v1h-2zM183 382h1v1h-1zM345 382h2v1h-2zM184 383h1v1h-1zM342 383h3v1h-3zM185 384h2v1h-2zM339 384h3v1h-3zM187 385h1v1h-1zM337 385h2v1h-2zM188 386h1v1h-1zM334 386h3v1h-3zM189 387h1v1h-1zM331 387h3v1h-3zM190 388h1v1h-1zM327 388h4v1h-4zM191 389h1v1h-1zM323 389h4v1h-4zM192 390v2h1v-2zM321 390h2v1h-2zM318 391h3v1h-3zM193 392h1v1h-1zM316 392h2v1h-2zM194 393h1v1h-1zM314 393h2v1h-2zM195 394h1v1h-1zM313 394h1v1h-1zM196 395h1v1h-1zM311 395h2v1h-2zM197 396h1v1h-1zM309 396h2v1h-2zM198 397v2h1v-2zM308 397h1v1h-1zM306 398h2v1h-2zM199 399h1v1h-1zM305 399h1v1h-1zM200 400h1v1h-1zM303 400h2v1h-2zM201 401h1v1h-1zM301 401h2v1h-2zM202 402v2h1v-2zM300 402h1v1h-1zM298 403h2v1h-2zM203 404h1v1h-1zM297 404h1v1h-1zM204 405h2v1h-2zM295 405h2v1h-2zM206 406h3v1h-3zM293 406h2v1h-2zM209 407h2v1h-2zM292 407h1v1h-1zM211 408h3v1h-3zM290 408h2v1h-2zM214 409h2v1h-2zM289 409h1v1h-1zM216 410h2v1h-2zM287 410h2v1h-2zM218 411h2v1h-2zM285 411h2v1h-2zM220 412h2v1h-2zM284 412h1v1h-1zM222 413h2v1h-2zM282 413h2v1h-2zM224 414h2v1h-2zM280 414h2v1h-2zM226 415h2v1h-2zM278 415h2v1h-2zM228 416h2v1h-2zM275 416h3v1h-3zM230 417h2v1h-2zM271 417h4v1h-4zM232 418h2v1h-2zM268 418h3v1h-3zM234 419h2v1h-2zM266 419h2v1h-2zM236 420h2v1h-2zM264 420h2v1h-2zM238 421h3v1h-3zM262 421h2v1h-2zM241 422h2v1h-2zM259 422h3v1h-3zM243 423h4v1h-4zM257 423h2v1h-2zM247 424h4v1h-4zM254 424h3v1h-3zM251 425h3v1h-3z" fill="#ffff00"/>
<path d="M1012 97h2v1h-2zM1010 98h2v1h-2zM1014 98h3v1h-3zM1008 99h2v1h-2zM1017 99h2v1h-2zM1006 100h2v1h-2zM1019 100h2v1h-2zM1003 101h3v1h-3zM1021 101h2v1h-2zM1001 102h2v1h-2zM1023 102h2v1h-2zM998 103h3v1h-3zM1025 103h1v1h-1zM995 104h3v1h-3zM1026 104h2v1h-2zM991 105h4v1h-4zM1028 105h1v1h-1zM988 106h3v1h-3zM1029 106h1v1h-1zM987 107h1v1h-1zM1030 107h1v1h-1zM985 108h2v1h-2zM1031 108h2v1h-2zM984 109h1v1h-1zM1033 109h1v1h-1zM983 110h1v1h-1zM1034 110h1v1h-1zM981 111h2v1h-2zM1035 111h1v1h-1zM980 112h1v1h-1zM1036 112h1v1h-1zM979 113h1v1h-1zM1037 113h1v1h-1zM978 114h1v1h-1zM1038 114v2h1v-2zM977 115h1v1h-1zM975 116h2v1h-2zM1039 116h1v1h-1zM974 117h1v1h-1zM1040 117h1v1h-1zM973 118h1v1h-1zM1041 118h1v1h-1zM972 119h1v1h-1zM1042 119v2h1v-2zM971 120h1v1h-1zM970 121h1v1h-1zM1043 121h1v1h-1zM969 122h1v1h-1zM1044 122h1v1h-1zM968 123h1v1h-1zM1045 123h1v1h-1zM967 124h1v1h-1zM1046 124h1v1h-1zM966 125h1v1h-1zM1047 125h1v1h-1zM965 126h1v1h-1zM1048 126h1v1h-1zM964 127h1v1h-1zM1049 127h1v1h-1zM963 128v2h1v-2zM1050 128h1v1h-1zM1051 129h1v1h-1zM962 130h1v1h-1zM1052 130h1v1h-1zM961 131h1v1h-1zM1053 131h1v1h-1zM960 132v2h1v-2zM1054 132h1v1h-1zM1055 133h2v1h-2zM959 134h1v1h-1zM1057 134h1v1h-1zM958 135h1v1h-1zM1058 135h1v1h-1zM957 136v2h1v-2zM1059 136h1v1h-1zM1060 137h1v1h-1zM956 138h1v1h-1zM1061 138h2v1h-2zM955 139v2h1v-2zM1063 139h1v1h-1zM1064 140h1v1h-1zM954 141h1v1h-1zM1065 141h2v1h-2zM953 142v2h1v-2zM1067 142h1v1h-1zM1068 143h2v1h-2zM952 144h1v1h-1zM1070 144h2v1h-2zM951 145v2h1v-2zM1072 145h2v1h-2zM1074 146h2v1h-2zM950 147h1v1h-1zM1076 147h1v1h-1zM949 148v2h1v-2zM1077 148h1v1h-1zM1078 149h1v1h-1zM948 150h1v1h-1zM1079 150h2v1h-2zM947 151v2h1v-2zM1081 151h1v1h-1zM1082 152h1v1h-1zM946 153h1v1h-1zM1083 153h1v1h-1zM945 154h1v1h-1zM1084 154h1v1h-1zM944 155v2h1v-2zM1085 155h2v1h-2zM1087 156h2v1h-2zM943 157h1v1h-1zM1089 157h1v1h-1zM942 158h1v1h-1zM1090 158h2v1h-2zM941 159v2h1v-2zM1092 159h2v1h-2zM1094 160h2v1h-2zM940 161h1v1h-1zM1096 161h2v1h-2zM939 162v2h1v-2zM1098 162h2v1h-2zM1100 163h1v1h-1zM938 164h1v1h-1zM1101 164h2v1h-2zM937 165v2h1v-2zM1103 165h2v1h-2zM1105 166h1v1h-1zM936 167h1v1h-1zM1106 167h2v1h-2zM935 168v2h1v-2zM1108 168h1v1h-1zM1109 169h1v1h-1zM934 170h1v1h-1zM1110 170h1v1h-1zM933 171v2h1v-2zM1111 171h1v1h-1zM1112 172h1v1h-1zM932 173h1v1h-1zM1113 173h1v1h-1zM931 174v2h1v-2zM1114 174h1v1h-1zM1115 175h1v1h-1zM930 176v2h1v-2zM929 178h1v1h-1zM928 179v2h1v-2zM927 181h1v1h-1zM926 182v2h1v-2zM925 184v2h1v-2zM924 186h1v1h-1zM923 187v2h1v-2zM922 189h1v1h-1zM921 190v2h1v-2zM920 192h1v1h-1zM919 193v2h1v-2zM918 195h1v1h-1zM917 196v2h1v-2zM916 198h1v1h-1zM915 199v2h1v-2zM914 201v2h1v-2zM913 203h1v1h-1zM912 204v2h1v-2zM911 206h1v1h-1zM910 207v2h1v-2zM909 209v2h1v-2zM908 211h1v1h-1zM907 212v2h1v-2zM906 214v2h1v-2zM905 216h1v1h-1zM904 217v2h1v-2zM903 219h1v1h-1zM902 220v2h1v-2zM901 222v2h1v-2zM900 224h1v1h-1zM899 225v2h1v-2zM898 227v2h1v-2zM897 229h1v1h-1zM896 230v2h1v-2zM895 232h1v1h-1zM894 233v2h1v-2zM673 235h4v1h-4zM893 235v2h1v-2zM665 236h8v1h-8zM677 236h1v1h-1zM660 237h5v1h-5zM678 237h1v1h-1zM892 237h1v1h-1zM658 238h2v1h-2zM679 238h2v1h-2zM891 238v2h1v-2zM656 239h2v1h-2zM681 239h1v1h-1zM654 240h2v1h-2zM682 240h1v1h-1zM890 240h1v1h-1zM649 241h5v1h-5zM683 241h1v1h-1zM889 241v2h1v-2zM643 242h6v1h-6zM684 242h1v1h-1zM639 243h4v1h-4zM685 243h1v1h-1zM888 243h1v1h-1zM633 244h6v1h-6zM686 244h1v1h-1zM887 244v2h1v-2zM628 245h5v1h-5zM687 245h2v1h-2zM627 246h1v1h-1zM689 246h1v1h-1zM886 246h1v1h-1zM625 247h2v1h-2zM690 247h1v1h-1zM885 247v2h1v-2zM497 248h6v1h-6zM624 248h1v1h-1zM691 248h1v1h-1zM491 249h6v1h-6zM503 249h4v1h-4zM623 249h1v1h-1zM692 249h1v1h-1zM884 249h1v1h-1zM487 250h4v1h-4zM507 250h4v1h-4zM621 250h2v1h-2zM693 250h1v1h-1zM883 250v2h1v-2zM484 251h3v1h-3zM511 251h4v1h-4zM529 251h5v1h-5zM620 251h1v1h-1zM694 251h1v1h-1zM482 252h2v1h-2zM515 252h14v1h-14zM534 252h3v1h-3zM619 252h1v1h-1zM695 252h1v1h-1zM882 252h1v1h-1zM480 253h2v1h-2zM537 253h2v1h-2zM618 253h1v1h-1zM696 253h1v1h-1zM881 253v2h1v-2zM478 254h2v1h-2zM539 254h2v1h-2zM617 254h1v1h-1zM697 254h1v1h-1zM476 255h2v1h-2zM541 255h2v1h-2zM616 255v2h1v-2zM698 255h1v1h-1zM880 255h1v1h-1zM474 256h2v1h-2zM543 256h1v1h-1zM699 256h1v1h-1zM879 256v2h1v-2zM473 257h1v1h-1zM544 257h1v1h-1zM615 257h1v1h-1zM700 257h1v1h-1zM471 258h2v1h-2zM545 258h2v1h-2zM614 258h1v1h-1zM701 258v2h1v-2zM878 258h1v1h-1zM469 259h2v1h-2zM547 259h1v1h-1zM613 259h1v1h-1zM877 259v2h1v-2zM468 260h1v1h-1zM548 260h1v1h-1zM612 260h1v1h-1zM702 260v2h1v-2zM467 261h1v1h-1zM549 261h1v1h-1zM610 261h2v1h-2zM876 261h1v1h-1zM466 262h1v1h-1zM550 262h1v1h-1zM608 262h2v1h-2zM703 262h1v1h-1zM875 262h1v1h-1zM465 263h1v1h-1zM551 263h2v1h-2zM606 263h2v1h-2zM704 263v2h1v-2zM874 263h1v1h-1zM464 264h1v1h-1zM553 264h1v1h-1zM604 264h2v1h-2zM873 264h1v1h-1zM463 265h1v1h-1zM554 265h1v1h-1zM602 265h2v1h-2zM705 265h1v1h-1zM872 265v2h1v-2zM462 266h1v1h-1zM555 266h1v1h-1zM601 266h1v1h-1zM706 266v2h1v-2zM461 267h1v1h-1zM556 267h2v1h-2zM599 267h2v1h-2zM871 267h1v1h-1zM460 268h1v1h-1zM558 268h2v1h-2zM597 268h2v1h-2zM707 268v2h1v-2zM870 268h1v1h-1zM459 269h1v1h-1zM560 269h2v1h-2zM596 269h1v1h-1zM869 269h1v1h-1zM458 270h1v1h-1zM562 270h2v1h-2zM594 270h2v1h-2zM708 270h1v1h-1zM868 270h1v1h-1zM457 271h1v1h-1zM564 271h2v1h-2zM593 271h1v1h-1zM709 271h1v1h-1zM867 271h1v1h-1zM455 272h2v1h-2zM566 272h3v1h-3zM591 272h2v1h-2zM710 272v2h1v-2zM866 272h1v1h-1zM454 273h1v1h-1zM569 273h2v1h-2zM589 273h2v1h-2zM865 273h1v1h-1zM453 274h1v1h-1zM571 274h6v1h-6zM585 274h4v1h-4zM711 274h1v1h-1zM864 274h1v1h-1zM452 275h1v1h-1zM577 275h8v1h-8zM712 275h1v1h-1zM863 275h1v1h-1zM451 276h1v1h-1zM713 276h1v1h-1zM862 276h1v1h-1zM450 277h1v1h-1zM714 277v2h1v-2zM861 277h1v1h-1zM449 278h1v1h-1zM860 278h1v1h-1zM447 279h2v1h-2zM715 279h1v1h-1zM858 279h2v1h-2zM446 280h1v1h-1zM716 280h1v1h-1zM856 280h2v1h-2zM445 281h1v1h-1zM717 281h1v1h-1zM854 281h2v1h-2zM444 282h1v1h-1zM718 282h1v1h-1zM852 282h2v1h-2zM443 283v2h1v-2zM719 283h1v1h-1zM850 283h2v1h-2zM720 284h1v1h-1zM849 284h1v1h-1zM442 285h1v1h-1zM721 285h1v1h-1zM847 285h2v1h-2zM441 286h1v1h-1zM722 286h1v1h-1zM845 286h2v1h-2zM440 287v2h1v-2zM723 287h1v1h-1zM844 287h1v1h-1zM724 288h1v1h-1zM842 288h2v1h-2zM439 289h1v1h-1zM725 289v2h1v-2zM841 289h1v1h-1zM438 290h1v1h-1zM839 290h2v1h-2zM437 291v2h1v-2zM726 291h1v1h-1zM837 291h2v1h-2zM727 292h1v1h-1zM836 292h1v1h-1zM436 293h1v1h-1zM728 293v2h1v-2zM835 293h1v1h-1zM435 294h1v1h-1zM834 294h1v1h-1zM434 295v2h1v-2zM729 295h1v1h-1zM833 295h1v1h-1zM730 296h1v1h-1zM831 296h2v1h-2zM433 297h1v1h-1zM731 297v2h1v-2zM830 297h1v1h-1zM432 298h1v1h-1zM829 298h1v1h-1zM431 299h1v1h-1zM732 299h1v1h-1zM828 299h1v1h-1zM430 300v2h1v-2zM733 300h1v1h-1zM827 300h1v1h-1zM734 301h1v1h-1zM826 301h1v1h-1zM429 302h1v1h-1zM735 302h1v1h-1zM825 302h1v1h-1zM428 303h1v1h-1zM736 303v2h1v-2zM824 303h1v1h-1zM427 304h1v1h-1zM823 304h1v1h-1zM426 305h1v1h-1zM737 305h1v1h-1zM822 305h1v1h-1zM425 306h1v1h-1zM738 306h1v1h-1zM821 306h1v1h-1zM424 307v2h1v-2zM739 307h1v1h-1zM819 307h2v1h-2zM740 308h3v1h-3zM817 308h2v1h-2zM423 309h1v1h-1zM743 309h4v1h-4zM814 309h3v1h-3zM422 310h1v1h-1zM747 310h2v1h-2zM812 310h2v1h-2zM421 311h1v1h-1zM749 311h1v1h-1zM810 311h2v1h-2zM419 312h2v1h-2zM750 312h1v1h-1zM808 312h2v1h-2zM415 313h4v1h-4zM751 313h1v1h-1zM806 313h2v1h-2zM412 314h3v1h-3zM752 314h1v1h-1zM804 314h2v1h-2zM410 315h2v1h-2zM753 315h1v1h-1zM803 315h1v1h-1zM408 316h2v1h-2zM754 316h1v1h-1zM801 316h2v1h-2zM406 317h2v1h-2zM755 317h1v1h-1zM800 317h1v1h-1zM404 318h2v1h-2zM756 318h3v1h-3zM799 318h1v1h-1zM402 319h2v1h-2zM759 319h4v1h-4zM797 319h2v1h-2zM400 320h2v1h-2zM763 320h3v1h-3zM796 320h1v1h-1zM398 321h2v1h-2zM766 321h3v1h-3zM794 321h2v1h-2zM395 322h3v1h-3zM769 322h2v1h-2zM793 322h1v1h-1zM393 323h2v1h-2zM771 323h4v1h-4zM791 323h2v1h-2zM390 324h3v1h-3zM775 324h4v1h-4zM789 324h2v1h-2zM387 325h3v1h-3zM779 325h10v1h-10zM4 326h2v1h-2zM385 326h2v1h-2zM6 327h3v1h-3zM382 327h3v1h-3zM9 328h2v1h-2zM379 328h3v1h-3zM11 329h3v1h-3zM33 329h5v1h-5zM375 329h4v1h-4zM14 330h2v1h-2zM27 330h6v1h-6zM38 330h2v1h-2zM371 330h4v1h-4zM16 331h2v1h-2zM25 331h2v1h-2zM40 331h2v1h-2zM367 331h4v1h-4zM18 332h2v1h-2zM22 332h3v1h-3zM42 332h2v1h-2zM363 332h4v1h-4zM20 333h2v1h-2zM44 333h1v1h-1zM361 333h2v1h-2zM45 334h2v1h-2zM358 334h3v1h-3zM47 335h2v1h-2zM356 335h2v1h-2zM49 336h1v1h-1zM354 336h2v1h-2zM50 337h2v1h-2zM353 337h1v1h-1zM52 338h3v1h-3zM351 338h2v1h-2zM55 339h4v1h-4zM349 339h2v1h-2zM59 340h2v1h-2zM348 340h1v1h-1zM61 341h1v1h-1zM347 341h1v1h-1zM62 342h1v1h-1zM346 342h1v1h-1zM63 343h1v1h-1zM345 343h1v1h-1zM64 344h1v1h-1zM343 344h2v1h-2zM65 345h1v1h-1zM342 345h1v1h-1zM66 346h1v1h-1zM341 346h1v1h-1zM67 347h1v1h-1zM340 347h1v1h-1zM68 348h5v1h-5zM81 348h6v1h-6zM339 348h1v1h-1zM73 349h8v1h-8zM87 349h4v1h-4zM338 349h1v1h-1zM91 350h3v1h-3zM108 350h1v1h-1zM337 350h1v1h-1zM94 351h2v1h-2zM106 351h2v1h-2zM109 351h2v1h-2zM336 351v2h1v-2zM96 352h2v1h-2zM104 352h2v1h-2zM111 352h2v1h-2zM98 353h2v1h-2zM102 353h2v1h-2zM113 353h1v1h-1zM335 353h1v1h-1zM100 354h2v1h-2zM114 354h2v1h-2zM334 354h1v1h-1zM116 355h1v1h-1zM333 355h1v1h-1zM117 356h2v1h-2zM332 356h1v1h-1zM119 357h2v1h-2zM330 357h2v1h-2zM121 358h1v1h-1zM328 358h2v1h-2zM122 359h2v1h-2zM326 359h2v1h-2zM124 360h1v1h-1zM324 360h2v1h-2zM125 361h2v1h-2zM323 361h1v1h-1zM127 362h1v1h-1zM321 362h2v1h-2zM128 363h1v1h-1zM320 363h1v1h-1zM129 364h2v1h-2zM319 364h1v1h-1zM131 365h1v1h-1zM317 365h2v1h-2zM132 366h1v1h-1zM316 366h1v1h-1zM133 367v2h1v-2zM315 367v2h1v-2zM134 369v2h1v-2zM314 369h1v1h-1zM313 370v2h1v-2zM135 371h1v1h-1zM136 372v2h1v-2zM312 372h1v1h-1zM311 373v2h1v-2zM137 374h1v1h-1zM138 375v2h1v-2zM310 375h1v1h-1zM309 376v2h1v-2zM139 377v2h1v-2zM308 378h1v1h-1zM140 379h1v1h-1zM307 379v2h1v-2zM141 380h1v1h-1zM142 381h1v1h-1zM306 381h1v1h-1zM143 382h1v1h-1zM305 382h1v1h-1zM144 383v2h1v-2zM304 383v2h1v-2zM145 385h1v1h-1zM303 385h1v1h-1zM146 386h1v1h-1zM302 386h1v1h-1zM147 387h1v1h-1zM301 387v2h1v-2zM148 388h3v1h-3zM151 389h4v1h-4zM300 389h1v1h-1zM155 390h3v1h-3zM299 390v2h1v-2zM158 391h2v1h-2zM160 392h2v1h-2zM298 392h1v1h-1zM162 393h2v1h-2zM297 393h1v1h-1zM164 394h1v1h-1zM296 394v2h1v-2zM165 395h2v1h-2zM167 396h2v1h-2zM295 396h1v1h-1zM169 397h1v1h-1zM294 397h1v1h-1zM170 398h2v1h-2zM293 398v2h1v-2zM172 399h5v1h-5zM177 400h4v1h-4zM292 400h1v1h-1zM181 401h1v1h-1zM291 401h1v1h-1zM182 402h1v1h-1zM289 402h2v1h-2zM183 403h1v1h-1zM288 403h1v1h-1zM184 404v2h1v-2zM287 404h1v1h-1zM285 405h2v1h-2zM185 406h1v1h-1zM284 406h1v1h-1zM186 407h1v1h-1zM283 407h1v1h-1zM187 408h1v1h-1zM282 408h1v1h-1zM188 409h1v1h-1zM281 409h1v1h-1zM189 410h1v1h-1zM280 410v2h1v-2zM190 411v2h1v-2zM279 412h1v1h-1zM191 413h1v1h-1zM278 413h1v1h-1zM192 414h1v1h-1zM277 414h1v1h-1zM193 415h1v1h-1zM276 415h1v1h-1zM194 416v2h1v-2zM274 416h2v1h-2zM273 417h1v1h-1zM195 418h1v1h-1zM271 418h2v1h-2zM196 419h1v1h-1zM269 419h2v1h-2zM197 420h1v1h-1zM268 420h1v1h-1zM198 421h1v1h-1zM266 421h2v1h-2zM199 422h1v1h-1zM264 422h2v1h-2zM200 423v2h1v-2zM262 423h2v1h-2zM260 424h2v1h-2zM201 425h1v1h-1zM259 425h1v1h-1zM202 426h1v1h-1zM258 426h1v1h-1zM203 427h1v1h-1zM257 427h1v1h-1zM204 428h5v1h-5zM256 428h1v1h-1zM209 429h4v1h-4zM255 429h1v1h-1zM213 430h1v1h-1zM254 430h1v1h-1zM214 431h1v1h-1zM253 431h1v1h-1zM215 432h2v1h-2zM252 432h1v1h-1zM217 433h1v1h-1zM251 433h1v1h-1zM218 434h1v1h-1zM250 434h1v1h-1zM219 435h1v1h-1zM249 435h1v1h-1zM220 436h2v1h-2zM248 436h1v1h-1zM222 437h3v1h-3zM247 437h1v1h-1zM225 438h2v1h-2zM246 438h1v1h-1zM227 439h4v1h-4zM245 439h1v1h-1zM231 440h4v1h-4zM241 440h4v1h-4zM235 441h6v1h-6z" fill="#ff0000"/>
<path d="M955 92h3v1h-3zM953 93h2v1h-2zM958 93h3v1h-3zM950 94h3v1h-3zM961 94h2v1h-2zM948 95h2v1h-2zM963 95h6v1h-6zM947 96h1v1h-1zM969 96h5v1h-5zM946 97h1v1h-1zM974 97h3v1h-3zM945 98h1v1h-1zM977 98h2v1h-2zM944 99h1v1h-1zM979 99h3v1h-3zM943 100h1v1h-1zM982 100h2v1h-2zM942 101h1v1h-1zM984 101h2v1h-2zM941 102h1v1h-1zM986 102h2v1h-2zM940 103h1v1h-1zM988 103h2v1h-2zM938 104h2v1h-2zM990 104h3v1h-3zM1009 104h8v1h-8zM937 105h1v1h-1zM993 105h2v1h-2zM1001 105h8v1h-8zM1017 105h4v1h-4zM935 106h2v1h-2zM995 106h6v1h-6zM1021 106v2h1v-2zM933 107h2v1h-2zM932 108h1v1h-1zM1022 108h1v1h-1zM931 109v2h1v-2zM1023 109h1v1h-1zM1024 110v2h1v-2zM930 111h1v1h-1zM929 112v2h1v-2zM1025 112h1v1h-1zM1026 113h1v1h-1zM928 114h1v1h-1zM1027 114v2h1v-2zM927 115v2h1v-2zM1028 116h1v1h-1zM926 117h1v1h-1zM1029 117h1v1h-1zM925 118v2h1v-2zM1030 118v2h1v-2zM924 120h1v1h-1zM1031 120h1v1h-1zM923 121v2h1v-2zM1032 121h1v1h-1zM1033 122h1v1h-1zM922 123v2h1v-2zM1034 123v2h1v-2zM921 125v2h1v-2zM1035 125h1v1h-1zM1036 126h1v1h-1zM920 127v2h1v-2zM1037 127v2h1v-2zM919 129v2h1v-2zM1038 129v2h1v-2zM918 131v2h1v-2zM1039 131v2h1v-2zM917 133v2h1v-2zM1040 133h1v1h-1zM1041 134v2h1v-2zM916 135v3h1v-3zM1042 136v2h1v-2zM915 138v3h1v-3zM1043 138v2h1v-2zM1044 140h1v1h-1zM914 141v3h1v-3zM1045 141v2h1v-2zM1046 143h1v1h-1zM913 144v3h1v-3zM1047 144v2h1v-2zM1048 146h1v1h-1zM912 147v3h1v-3zM1049 147v2h1v-2zM1050 149h1v1h-1zM911 150v3h1v-3zM1051 150v2h1v-2zM1052 152h1v1h-1zM910 153v3h1v-3zM1053 153v2h1v-2zM1054 155v2h1v-2zM909 156v3h1v-3zM1055 157v2h1v-2zM908 159v3h1v-3zM1056 159v2h1v-2zM1057 161v2h1v-2zM907 162v3h1v-3zM1058 163v2h1v-2zM906 165v3h1v-3zM1059 165v2h1v-2zM1060 167h1v1h-1zM905 168v3h1v-3zM1061 168v2h1v-2zM1062 170v2h1v-2zM904 171v4h1v-4zM1063 172v2h1v-2zM1064 174v2h1v-2zM903 175v3h1v-3zM1065 176v2h1v-2zM902 178v3h1v-3zM1066 178v2h1v-2zM1067 180v2h1v-2zM901 181v3h1v-3zM1068 182h1v1h-1zM1069 183h2v1h-2zM900 184v2h1v-2zM1071 184h1v1h-1zM1115 184h1v1h-1zM1072 185h1v1h-1zM1111 185h4v1h-4zM899 186v2h1v-2zM1073 186h2v1h-2zM1100 186h11v1h-11zM1075 187h1v1h-1zM1099 187h1v1h-1zM898 188v2h1v-2zM1076 188h3v1h-3zM1098 188h1v1h-1zM1079 189h4v1h-4zM1097 189h1v1h-1zM897 190v2h1v-2zM1083 190h3v1h-3zM1095 190h2v1h-2zM1086 191h3v1h-3zM1094 191h1v1h-1zM896 192h1v1h-1zM1089 192h2v1h-2zM1093 192h1v1h-1zM895 193v2h1v-2zM1091 193h2v1h-2zM894 195v2h1v-2zM893 197v2h1v-2zM892 199h1v1h-1zM891 200v2h1v-2zM890 202v2h1v-2zM889 204v2h1v-2zM888 206v2h1v-2zM628 207h5v1h-5zM627 208h1v1h-1zM633 208h6v1h-6zM887 208v2h1v-2zM626 209v2h1v-2zM639 209h4v1h-4zM643 210h2v1h-2zM886 210v2h1v-2zM625 211h1v1h-1zM645 211v2h1v-2zM624 212h1v1h-1zM885 212v2h1v-2zM623 213h1v1h-1zM646 213h1v1h-1zM622 214v2h1v-2zM647 214h1v1h-1zM884 214v2h1v-2zM648 215v2h1v-2zM621 216h1v1h-1zM883 216v2h1v-2zM620 217h1v1h-1zM649 217h1v1h-1zM619 218v2h1v-2zM650 218h1v1h-1zM882 218v2h1v-2zM651 219v2h1v-2zM618 220v2h1v-2zM881 220v2h1v-2zM652 221h1v1h-1zM617 222v2h1v-2zM653 222h1v1h-1zM880 222v3h1v-3zM654 223h1v1h-1zM616 224v2h1v-2zM655 224h2v1h-2zM657 225h1v1h-1zM879 225v2h1v-2zM615 226v2h1v-2zM658 226h1v1h-1zM476 227h2v1h-2zM659 227h1v1h-1zM878 227v2h1v-2zM475 228h1v1h-1zM478 228h2v1h-2zM614 228v2h1v-2zM660 228h1v1h-1zM474 229h1v1h-1zM480 229h2v1h-2zM661 229h1v1h-1zM877 229v2h1v-2zM473 230h1v1h-1zM482 230h2v1h-2zM613 230v2h1v-2zM662 230h1v1h-1zM471 231h2v1h-2zM484 231h1v1h-1zM663 231h1v1h-1zM876 231v2h1v-2zM470 232h1v1h-1zM485 232h1v1h-1zM612 232v2h1v-2zM664 232h1v1h-1zM469 233h1v1h-1zM486 233h1v1h-1zM665 233h1v1h-1zM875 233v2h1v-2zM468 234h1v1h-1zM487 234h1v1h-1zM611 234v2h1v-2zM666 234h1v1h-1zM467 235h1v1h-1zM488 235v2h1v-2zM667 235h1v1h-1zM874 235v2h1v-2zM465 236h2v1h-2zM610 236v2h1v-2zM668 236h1v1h-1zM464 237h1v1h-1zM489 237h1v1h-1zM669 237v2h1v-2zM873 237v2h1v-2zM463 238h1v1h-1zM490 238h1v1h-1zM609 238v2h1v-2zM461 239h2v1h-2zM491 239h1v1h-1zM670 239v2h1v-2zM872 239v2h1v-2zM460 240h1v1h-1zM492 240h1v1h-1zM608 240h1v1h-1zM458 241h2v1h-2zM493 241h1v1h-1zM607 241v2h1v-2zM671 241v2h1v-2zM871 241v2h1v-2zM456 242h2v1h-2zM494 242v2h1v-2zM454 243h2v1h-2zM606 243v2h1v-2zM672 243v2h1v-2zM870 243v2h1v-2zM452 244h2v1h-2zM495 244h1v1h-1zM450 245h2v1h-2zM496 245h1v1h-1zM605 245v2h1v-2zM673 245v2h1v-2zM869 245v2h1v-2zM448 246h2v1h-2zM497 246h1v1h-1zM446 247h2v1h-2zM498 247v2h1v-2zM604 247h1v1h-1zM674 247v2h1v-2zM868 247v2h1v-2zM444 248h2v1h-2zM603 248v2h1v-2zM443 249h1v1h-1zM499 249h1v1h-1zM675 249v2h1v-2zM867 249v2h1v-2zM442 250v2h1v-2zM500 250h1v1h-1zM602 250v2h1v-2zM501 251h1v1h-1zM676 251v2h1v-2zM866 251v2h1v-2zM441 252h1v1h-1zM502 252h1v1h-1zM601 252v2h1v-2zM440 253h1v1h-1zM503 253h2v1h-2zM677 253v2h1v-2zM865 253h1v1h-1zM439 254h1v1h-1zM505 254h1v1h-1zM600 254h1v1h-1zM864 254v2h1v-2zM438 255v2h1v-2zM506 255h1v1h-1zM599 255v2h1v-2zM678 255v2h1v-2zM507 256h1v1h-1zM863 256h1v1h-1zM437 257h1v1h-1zM508 257h1v1h-1zM598 257v2h1v-2zM679 257v3h1v-3zM862 257v2h1v-2zM436 258h1v1h-1zM509 258h2v1h-2zM435 259v2h1v-2zM511 259h1v1h-1zM597 259v2h1v-2zM861 259v2h1v-2zM512 260h1v1h-1zM680 260v2h1v-2zM434 261v2h1v-2zM513 261h2v1h-2zM596 261h1v1h-1zM860 261h1v1h-1zM515 262h1v1h-1zM595 262v2h1v-2zM681 262v3h1v-3zM858 262h2v1h-2zM433 263v2h1v-2zM516 263h1v1h-1zM856 263h2v1h-2zM517 264h2v1h-2zM594 264v2h1v-2zM854 264h2v1h-2zM432 265h1v1h-1zM519 265h1v1h-1zM682 265v2h1v-2zM852 265h2v1h-2zM431 266v2h1v-2zM520 266h1v1h-1zM593 266h1v1h-1zM850 266h2v1h-2zM521 267h2v1h-2zM592 267v2h1v-2zM683 267v2h1v-2zM849 267h1v1h-1zM430 268v2h1v-2zM523 268h1v1h-1zM847 268h2v1h-2zM524 269h1v1h-1zM591 269h1v1h-1zM684 269v3h1v-3zM845 269h2v1h-2zM429 270v2h1v-2zM525 270h1v1h-1zM590 270v2h1v-2zM844 270h1v1h-1zM526 271h1v1h-1zM842 271h2v1h-2zM428 272h1v1h-1zM527 272h2v1h-2zM589 272v2h1v-2zM685 272v3h1v-3zM840 272h2v1h-2zM427 273v2h1v-2zM529 273h1v1h-1zM838 273h2v1h-2zM530 274h1v1h-1zM588 274h1v1h-1zM836 274h2v1h-2zM426 275h1v1h-1zM531 275h1v1h-1zM587 275h1v1h-1zM686 275v2h1v-2zM835 275h1v1h-1zM425 276v2h1v-2zM532 276h3v1h-3zM585 276h2v1h-2zM833 276h2v1h-2zM535 277h4v1h-4zM584 277h1v1h-1zM687 277v3h1v-3zM832 277h1v1h-1zM424 278h1v1h-1zM539 278h3v1h-3zM583 278h1v1h-1zM831 278h1v1h-1zM423 279v2h1v-2zM542 279h2v1h-2zM581 279h2v1h-2zM829 279h2v1h-2zM544 280h2v1h-2zM580 280h1v1h-1zM688 280v3h1v-3zM828 280h1v1h-1zM422 281h1v1h-1zM546 281h2v1h-2zM579 281h1v1h-1zM827 281h1v1h-1zM421 282v2h1v-2zM548 282h3v1h-3zM577 282h2v1h-2zM826 282h1v1h-1zM551 283h4v1h-4zM576 283h1v1h-1zM689 283v3h1v-3zM825 283h1v1h-1zM420 284h1v1h-1zM555 284h6v1h-6zM575 284h1v1h-1zM823 284h2v1h-2zM419 285h1v1h-1zM561 285h8v1h-8zM573 285h2v1h-2zM822 285h1v1h-1zM417 286h2v1h-2zM569 286h4v1h-4zM690 286v2h1v-2zM821 286h1v1h-1zM416 287h1v1h-1zM817 287h4v1h-4zM415 288h1v1h-1zM691 288v3h1v-3zM812 288h5v1h-5zM413 289h2v1h-2zM811 289h1v1h-1zM412 290h1v1h-1zM809 290h2v1h-2zM411 291h1v1h-1zM692 291v2h1v-2zM808 291h1v1h-1zM410 292h1v1h-1zM807 292h1v1h-1zM409 293h1v1h-1zM693 293v2h1v-2zM805 293h2v1h-2zM408 294h1v1h-1zM804 294h1v1h-1zM407 295h1v1h-1zM694 295h1v1h-1zM802 295h2v1h-2zM406 296h1v1h-1zM695 296v2h1v-2zM801 296h1v1h-1zM405 297h1v1h-1zM799 297h2v1h-2zM404 298h1v1h-1zM696 298h1v1h-1zM797 298h2v1h-2zM403 299h1v1h-1zM697 299v2h1v-2zM796 299h1v1h-1zM402 300v2h1v-2zM795 300h1v1h-1zM698 301h1v1h-1zM793 301h2v1h-2zM401 302h1v1h-1zM699 302v2h1v-2zM792 302h1v1h-1zM400 303h1v1h-1zM791 303h1v1h-1zM399 304h1v1h-1zM700 304h1v1h-1zM789 304h2v1h-2zM398 305v2h1v-2zM701 305v2h1v-2zM788 305h1v1h-1zM787 306h1v1h-1zM397 307h1v1h-1zM702 307v2h1v-2zM786 307h1v1h-1zM396 308h1v1h-1zM785 308h1v1h-1zM395 309v2h1v-2zM703 309h1v1h-1zM783 309h2v1h-2zM704 310v2h1v-2zM782 310h1v1h-1zM394 311h1v1h-1zM781 311h1v1h-1zM393 312h1v1h-1zM705 312h1v1h-1zM780 312h1v1h-1zM392 313v2h1v-2zM706 313v2h1v-2zM779 313h1v1h-1zM777 314h2v1h-2zM391 315h1v1h-1zM707 315v2h1v-2zM776 315h1v1h-1zM390 316h1v1h-1zM775 316h1v1h-1zM389 317v2h1v-2zM708 317h1v1h-1zM773 317h2v1h-2zM709 318v2h1v-2zM772 318h1v1h-1zM388 319h1v1h-1zM771 319h1v1h-1zM387 320v2h1v-2zM710 320v2h1v-2zM770 320h1v1h-1zM308 321h5v1h-5zM769 321h1v1h-1zM307 322h1v1h-1zM313 322h5v1h-5zM386 322h1v1h-1zM711 322h1v1h-1zM767 322h2v1h-2zM306 323h1v1h-1zM318 323h2v1h-2zM385 323h1v1h-1zM712 323v2h1v-2zM766 323h1v1h-1zM305 324h1v1h-1zM320 324h2v1h-2zM384 324v2h1v-2zM765 324h1v1h-1zM303 325h2v1h-2zM322 325h2v1h-2zM713 325h1v1h-1zM764 325h1v1h-1zM302 326h1v1h-1zM324 326h1v1h-1zM383 326h1v1h-1zM714 326v2h1v-2zM763 326h1v1h-1zM301 327h1v1h-1zM325 327h2v1h-2zM382 327h1v1h-1zM762 327h1v1h-1zM300 328h1v1h-1zM327 328h2v1h-2zM381 328v2h1v-2zM715 328v2h1v-2zM761 328h1v1h-1zM299 329h1v1h-1zM329 329h1v1h-1zM759 329h2v1h-2zM298 330v2h1v-2zM330 330h2v1h-2zM380 330h1v1h-1zM716 330h1v1h-1zM758 330h1v1h-1zM332 331h2v1h-2zM379 331h1v1h-1zM717 331h1v1h-1zM757 331h1v1h-1zM59 332h2v1h-2zM297 332h1v1h-1zM334 332h3v1h-3zM377 332h2v1h-2zM718 332h1v1h-1zM753 332h4v1h-4zM55 333h4v1h-4zM61 333h1v1h-1zM296 333h1v1h-1zM337 333h2v1h-2zM376 333h1v1h-1zM719 333h1v1h-1zM748 333h5v1h-5zM51 334h4v1h-4zM62 334h1v1h-1zM295 334h1v1h-1zM339 334h2v1h-2zM375 334h1v1h-1zM720 334h1v1h-1zM747 334h1v1h-1zM49 335h2v1h-2zM63 335h1v1h-1zM294 335v2h1v-2zM341 335h2v1h-2zM373 335h2v1h-2zM721 335h1v1h-1zM745 335h2v1h-2zM46 336h3v1h-3zM64 336h1v1h-1zM343 336h2v1h-2zM372 336h1v1h-1zM722 336h1v1h-1zM744 336h1v1h-1zM44 337h2v1h-2zM65 337h1v1h-1zM293 337h1v1h-1zM345 337h1v1h-1zM370 337h2v1h-2zM723 337h1v1h-1zM743 337h1v1h-1zM42 338h2v1h-2zM66 338h1v1h-1zM75 338h2v1h-2zM292 338v2h1v-2zM346 338h2v1h-2zM369 338h1v1h-1zM724 338h1v1h-1zM741 338h2v1h-2zM41 339h1v1h-1zM67 339h1v1h-1zM71 339h4v1h-4zM77 339h2v1h-2zM348 339h5v1h-5zM367 339h2v1h-2zM725 339h2v1h-2zM740 339h1v1h-1zM39 340h2v1h-2zM68 340h3v1h-3zM79 340h1v1h-1zM291 340v2h1v-2zM353 340h8v1h-8zM365 340h2v1h-2zM727 340h1v1h-1zM738 340h2v1h-2zM37 341h2v1h-2zM80 341h1v1h-1zM361 341h4v1h-4zM728 341h1v1h-1zM737 341h1v1h-1zM36 342h1v1h-1zM81 342h2v1h-2zM290 342v3h1v-3zM729 342h2v1h-2zM735 342h2v1h-2zM35 343v2h1v-2zM83 343h1v1h-1zM731 343h1v1h-1zM733 343h2v1h-2zM84 344v2h1v-2zM732 344h1v1h-1zM34 345h1v1h-1zM289 345v2h1v-2zM33 346h1v1h-1zM85 346v2h1v-2zM32 347v2h1v-2zM288 347v3h1v-3zM4 348h1v1h-1zM86 348v2h1v-2zM5 349h1v1h-1zM31 349h1v1h-1zM6 350h1v1h-1zM30 350h1v1h-1zM87 350v2h1v-2zM287 350v2h1v-2zM7 351h1v1h-1zM29 351v2h1v-2zM8 352h1v1h-1zM88 352v2h1v-2zM286 352v3h1v-3zM9 353h1v1h-1zM28 353h1v1h-1zM10 354h1v1h-1zM26 354h2v1h-2zM89 354v2h1v-2zM11 355h1v1h-1zM25 355h1v1h-1zM285 355v2h1v-2zM12 356h3v1h-3zM23 356h2v1h-2zM90 356v2h1v-2zM15 357h4v1h-4zM21 357h2v1h-2zM284 357v3h1v-3zM19 358h2v1h-2zM91 358v2h1v-2zM92 360v2h1v-2zM283 360v2h1v-2zM93 362h1v1h-1zM282 362v2h1v-2zM94 363h1v1h-1zM95 364h2v1h-2zM281 364v2h1v-2zM97 365h1v1h-1zM98 366h1v1h-1zM280 366v3h1v-3zM99 367h1v1h-1zM105 367h4v1h-4zM100 368h5v1h-5zM109 368h1v1h-1zM110 369h1v1h-1zM279 369v2h1v-2zM111 370h1v1h-1zM112 371h1v1h-1zM278 371v2h1v-2zM113 372h1v1h-1zM114 373h1v1h-1zM277 373v2h1v-2zM115 374h1v1h-1zM116 375h3v1h-3zM276 375v2h1v-2zM119 376h4v1h-4zM123 377h2v1h-2zM275 377v2h1v-2zM124 378h1v1h-1zM125 379v2h1v-2zM274 379v2h1v-2zM126 381v2h1v-2zM273 381v2h1v-2zM127 383v2h1v-2zM272 383v2h1v-2zM128 385v2h1v-2zM271 385v2h1v-2zM129 387v2h1v-2zM270 387v2h1v-2zM130 389v2h1v-2zM269 389v2h1v-2zM131 391v2h1v-2zM268 391v3h1v-3zM132 393v3h1v-3zM267 394v2h1v-2zM133 396v2h1v-2zM266 396v2h1v-2zM134 398v2h1v-2zM265 398v2h1v-2zM135 400v2h1v-2zM264 400v3h1v-3zM136 402v2h1v-2zM263 403v2h1v-2zM137 404v2h1v-2zM262 405v2h1v-2zM138 406v2h1v-2zM261 407v2h1v-2zM139 408v2h1v-2zM260 409v3h1v-3zM140 410h1v1h-1zM141 411h2v1h-2zM156 411h1v1h-1zM143 412h2v1h-2zM154 412h2v1h-2zM157 412v2h1v-2zM259 412v3h1v-3zM145 413h1v1h-1zM152 413h2v1h-2zM146 414h2v1h-2zM150 414h2v1h-2zM158 414h1v1h-1zM148 415h2v1h-2zM159 415h1v1h-1zM258 415v3h1v-3zM160 416v2h1v-2zM161 418h1v1h-1zM257 418v3h1v-3zM162 419h1v1h-1zM163 420v2h1v-2zM256 421v3h1v-3zM164 422h13v1h-13zM177 423h4v1h-4zM181 424h2v1h-2zM255 424v3h1v-3zM183 425h1v1h-1zM184 426h1v1h-1zM185 427h2v1h-2zM254 427v3h1v-3zM187 428h1v1h-1zM188 429h9v1h-9zM197 430h1v1h-1zM253 430v3h1v-3zM198 431v2h1v-2zM199 433h1v1h-1zM252 433v2h1v-2zM200 434h1v1h-1zM201 435h1v1h-1zM251 435v2h1v-2zM202 436v2h1v-2zM250 437v2h1v-2zM203 438h1v1h-1zM204 439h1v1h-1zM249 439v2h1v-2zM205 440h1v1h-1zM206 441h1v1h-1zM248 441v2h1v-2zM207 442h1v1h-1zM208 443h1v1h-1zM247 443v2h1v-2zM209 444h1v1h-1zM210 445h1v1h-1zM246 445v2h1v-2zM211 446h1v1h-1zM212 447h2v1h-2zM245 447v2h1v-2zM214 448h2v1h-2zM216 449h2v1h-2zM244 449v2h1v-2zM218 450h2v1h-2zM220 451h2v1h-2zM243 451v2h1v-2zM222 452h2v1h-2zM224 453h2v1h-2zM242 453h1v1h-1zM226 454h2v1h-2zM241 454h1v1h-1zM228 455h1v1h-1zM240 455v2h1v-2zM229 456h2v1h-2zM231 457h1v1h-1zM239 457h1v1h-1zM232 458h1v1h-1zM238 458h1v1h-1zM233 459h2v1h-2zM237 459v2h1v-2zM235 460h1v1h-1zM236 461h1v1h-1z" fill="#0000cd"/>
<rect x="872" y="55" width="314" height="4" fill="#fa3838"/>
<rect x="871" y="170" width="313" height="5" fill="#99cc00"/>
</g>
<g shape-rendering="crispEdges">
<rect x="4" y="627" width="1" height="19" fill="#c0c0c0"/>
<rect x="12" y="627" width="1" height="18" fill="#c0c0c0"/>
<rect x="20" y="627" width="1" height="17" fill="#c0c0c0"/>
<rect x="28" y="627" width="1" height="12" fill="#c0c0c0"/>
<rect x="36" y="627" width="1" height="9" fill="#c0c0c0"/>
<rect x="44" y="627" width="1" height="10" fill="#c0c0c0"/>
<rect x="52" y="627" width="1" height="11" fill="#c0c0c0"/>
<rect x="60" y="627" width="1" height="10" fill="#c0c0c0"/>
<rect x="68" y="627" width="1" height="14" fill="#c0c0c0"/>
<rect x="76" y="627" width="1" height="15" fill="#c0c0c0"/>
<rect x="84" y="627" width="1" height="11" fill="#c0c0c0"/>
<rect x="92" y="627" width="1" height="16" fill="#c0c0c0"/>
<rect x="100" y="627" width="1" height="19" fill="#c0c0c0"/>
<rect x="108" y="627" width="1" height="16" fill="#c0c0c0"/>
<rect x="116" y="627" width="1" height="18" fill="#c0c0c0"/>
<rect x="124" y="627" width="1" height="21" fill="#c0c0c0"/>
<rect x="132" y="627" width="1" height="25" fill="#c0c0c0"/>
<rect x="140" y="627" width="1" height="29" fill="#c0c0c0"/>
<rect x="148" y="627" width="1" height="32" fill="#c0c0c0"/>
<rect x="156" y="627" width="1" height="28" fill="#c0c0c0"/>
<rect x="164" y="627" width="1" height="25" fill="#c0c0c0"/>
<rect x="172" y="627" width="1" height="25" fill="#c0c0c0"/>
<rect x="180" y="627" width="1" height="24" fill="#c0c0c0"/>
<rect x="188" y="627" width="1" height="27" fill="#c0c0c0"/>
<rect x="196" y="627" width="1" height="30" fill="#c0c0c0"/>
<rect x="204" y="627" width="1" height="37" fill="#c0c0c0"/>
<rect x="212" y="627" width="1" height="34" fill="#c0c0c0"/>
<rect x="220" y="627" width="1" height="30" fill="#c0c0c0"/>
<rect x="228" y="627" width="1" height="29" fill="#c0c0c0"/>
<rect x="236" y="627" width="1" height="28" fill="#c0c0c0"/>
<rect x="244" y="627" width="1" height="22" fill="#c0c0c0"/>
<rect x="252" y="627" width="1" height="15" fill="#c0c0c0"/>
<rect x="260" y="627" width="1" height="7" fill="#c0c0c0"/>
<rect x="276" y="621" width="1" height="7" fill="#c0c0c0"/>
<rect x="284" y="615" width="1" height="13" fill="#c0c0c0"/>
<rect x="292" y="610" width="1" height="18" fill="#c0c0c0"/>
<rect x="300" y="609" width="1" height="19" fill="#c0c0c0"/>
<rect x="308" y="607" width="1" height="21" fill="#c0c0c0"/>
<rect x="316" y="608" width="1" height="20" fill="#c0c0c0"/>
<rect x="324" y="610" width="1" height="18" fill="#c0c0c0"/>
<rect x="332" y="612" width="1" height="16" fill="#c0c0c0"/>
<rect x="340" y="611" width="1" height="17" fill="#c0c0c0"/>
<rect x="348" y="612" width="1" height="16" fill="#c0c0c0"/>
<rect x="356" y="612" width="1" height="16" fill="#c0c0c0"/>
<rect x="364" y="611" width="1" height="17" fill="#c0c0c0"/>
<rect x="372" y="611" width="1" height="17" fill="#c0c0c0"/>
<rect x="380" y="608" width="1" height="20" fill="#c0c0c0"/>
<rect x="388" y="606" width="1" height="22" fill="#c0c0c0"/>
<rect x="396" y="602" width="1" height="26" fill="#c0c0c0"/>
<rect x="404" y="599" width="1" height="29" fill="#c0c0c0"/>
<rect x="412" y="599" width="1" height="29" fill="#c0c0c0"/>
<rect x="420" y="599" width="1" height="29" fill="#c0c0c0"/>
<rect x="428" y="597" width="1" height="31" fill="#c0c0c0"/>
<rect x="436" y="593" width="1" height="35" fill="#c0c0c0"/>
<rect x="444" y="589" width="1" height="39" fill="#c0c0c0"/>
<rect x="452" y="589" width="1" height="39" fill="#c0c0c0"/>
<rect x="460" y="589" width="1" height="39" fill="#c0c0c0"/>
<rect x="468" y="590" width="1" height="38" fill="#c0c0c0"/>
<rect x="476" y="592" width="1" height="36" fill="#c0c0c0"/>
<rect x="484" y="596" width="1" height="32" fill="#c0c0c0"/>
<rect x="492" y="600" width="1" height="28" fill="#c0c0c0"/>
<rect x="500" y="603" width="1" height="25" fill="#c0c0c0"/>
<rect x="508" y="606" width="1" height="22" fill="#c0c0c0"/>
<rect x="516" y="610" width="1" height="18" fill="#c0c0c0"/>
<rect x="524" y="612" width="1" height="16" fill="#c0c0c0"/>
<rect x="532" y="614" width="1" height="14" fill="#c0c0c0"/>
<rect x="540" y="616" width="1" height="12" fill="#c0c0c0"/>
<rect x="548" y="620" width="1" height="8" fill="#c0c0c0"/>
<rect x="556" y="621" width="1" height="7" fill="#c0c0c0"/>
<rect x="564" y="623" width="1" height="5" fill="#c0c0c0"/>
<rect x="572" y="624" width="1" height="4" fill="#c0c0c0"/>
<rect x="580" y="620" width="1" height="8" fill="#c0c0c0"/>
<rect x="588" y="619" width="1" height="9" fill="#c0c0c0"/>
<rect x="596" y="611" width="1" height="17" fill="#c0c0c0"/>
<rect x="604" y="609" width="1" height="19" fill="#c0c0c0"/>
<rect x="612" y="606" width="1" height="22" fill="#c0c0c0"/>
<rect x="620" y="603" width="1" height="25" fill="#c0c0c0"/>
<rect x="628" y="603" width="1" height="25" fill="#c0c0c0"/>
<rect x="636" y="606" width="1" height="22" fill="#c0c0c0"/>
<rect x="644" y="609" width="1" height="19" fill="#c0c0c0"/>
<rect x="652" y="612" width="1" height="16" fill="#c0c0c0"/>
<rect x="660" y="615" width="1" height="13" fill="#c0c0c0"/>
<rect x="668" y="618" width="1" height="10" fill="#c0c0c0"/>
<rect x="676" y="623" width="1" height="5" fill="#c0c0c0"/>
<rect x="684" y="627" width="1" height="5" fill="#c0c0c0"/>
<rect x="692" y="627" width="1" height="12" fill="#c0c0c0"/>
<rect x="700" y="627" width="1" height="15" fill="#c0c0c0"/>
<rect x="708" y="627" width="1" height="18" fill="#c0c0c0"/>
<rect x="716" y="627" width="1" height="21" fill="#c0c0c0"/>
<rect x="724" y="627" width="1" height="22" fill="#c0c0c0"/>
<rect x="732" y="627" width="1" height="22" fill="#c0c0c0"/>
<rect x="740" y="627" width="1" height="21" fill="#c0c0c0"/>
<rect x="748" y="627" width="1" height="19" fill="#c0c0c0"/>
<rect x="756" y="627" width="1" height="18" fill="#c0c0c0"/>
<rect x="764" y="627" width="1" height="15" fill="#c0c0c0"/>
<rect x="772" y="627" width="1" height="13" fill="#c0c0c0"/>
<rect x="780" y="627" width="1" height="11" fill="#c0c0c0"/>
<rect x="788" y="627" width="1" height="8" fill="#c0c0c0"/>
<rect x="796" y="627" width="1" height="5" fill="#c0c0c0"/>
<rect x="804" y="627" width="1" height="3" fill="#c0c0c0"/>
<rect x="812" y="627" width="1" height="1" fill="#c0c0c0"/>
<rect x="820" y="627" width="1" height="1" fill="#c0c0c0"/>
<rect x="828" y="626" width="1" height="2" fill="#c0c0c0"/>
<rect x="836" y="623" width="1" height="5" fill="#c0c0c0"/>
<rect x="844" y="621" width="1" height="7" fill="#c0c0c0"/>
<rect x="852" y="619" width="1" height="9" fill="#c0c0c0"/>
<rect x="860" y="617" width="1" height="11" fill="#c0c0c0"/>
<rect x="868" y="613" width="1" height="15" fill="#c0c0c0"/>
<rect x="876" y="607" width="1" height="21" fill="#c0c0c0"/>
<rect x="884" y="599" width="1" height="29" fill="#c0c0c0"/>
<rect x="892" y="594" width="1" height="34" fill="#c0c0c0"/>
<rect x="900" y="590" width="1" height="38" fill="#c0c0c0"/>
<rect x="908" y="583" width="1" height="45" fill="#c0c0c0"/>
<rect x="916" y="578" width="1" height="50" fill="#c0c0c0"/>
<rect x="924" y="575" width="1" height="53" fill="#c0c0c0"/>
<rect x="932" y="574" width="1" height="54" fill="#c0c0c0"/>
<rect x="940" y="573" width="1" height="55" fill="#c0c0c0"/>
<rect x="948" y="573" width="1" height="55" fill="#c0c0c0"/>
<rect x="956" y="574" width="1" height="54" fill="#c0c0c0"/>
<rect x="964" y="576" width="1" height="52" fill="#c0c0c0"/>
<rect x="972" y="578" width="1" height="50" fill="#c0c0c0"/>
<rect x="980" y="581" width="1" height="47" fill="#c0c0c0"/>
<rect x="988" y="585" width="1" height="43" fill="#c0c0c0"/>
<rect x="996" y="588" width="1" height="40" fill="#c0c0c0"/>
<rect x="1004" y="588" width="1" height="40" fill="#c0c0c0"/>
<rect x="1012" y="589" width="1" height="39" fill="#c0c0c0"/>
<rect x="1020" y="594" width="1" height="34" fill="#c0c0c0"/>
<rect x="1028" y="600" width="1" height="28" fill="#c0c0c0"/>
<rect x="1036" y="607" width="1" height="21" fill="#c0c0c0"/>
<rect x="1044" y="616" width="1" height="12" fill="#c0c0c0"/>
<rect x="1052" y="621" width="1" height="7" fill="#c0c0c0"/>
<rect x="1060" y="626" width="1" height="2" fill="#c0c0c0"/>
<rect x="1076" y="627" width="1" height="1" fill="#c0c0c0"/>
<rect x="1084" y="627" width="1" height="2" fill="#c0c0c0"/>
<rect x="1092" y="627" width="1" height="4" fill="#c0c0c0"/>
<rect x="1100" y="627" width="1" height="4" fill="#c0c0c0"/>
<rect x="1108" y="627" width="1" height="5" fill="#c0c0c0"/>
<rect x="1116" y="627" width="1" height="7" fill="#c0c0c0"/>
<path d="M977 575h2v1h-2zM982 575h3v1h-3zM970 576h3v1h-3zM976 576h1v1h-1zM988 576h3v1h-3zM964 577h3v1h-3zM994 577h3v1h-3zM959 578h2v1h-2zM1000 578h3v1h-3zM958 579h1v1h-1zM1006 579h1v1h-1zM952 580h3v1h-3zM1007 580h2v1h-2zM948 581h1v1h-1zM1012 581h2v1h-2zM946 582h2v1h-2zM1014 582h1v1h-1zM1018 583h1v1h-1zM942 584h1v1h-1zM1019 584h2v1h-2zM940 585h2v1h-2zM1024 585h3v1h-3zM1030 587h2v1h-2zM935 588h2v1h-2zM1032 588h1v1h-1zM934 589h1v1h-1zM1036 590h2v1h-2zM930 591h1v1h-1zM1038 591h1v1h-1zM473 592h2v1h-2zM478 592h3v1h-3zM484 592h3v1h-3zM490 592h3v1h-3zM496 592h3v1h-3zM502 592h1v1h-1zM929 592h1v1h-1zM1042 592h1v1h-1zM467 593h2v1h-2zM472 593h1v1h-1zM503 593h2v1h-2zM928 593h1v1h-1zM1043 593h2v1h-2zM466 594h1v1h-1zM508 594h3v1h-3zM460 595h3v1h-3zM514 595h1v1h-1zM924 595h1v1h-1zM1048 595h1v1h-1zM454 596h3v1h-3zM515 596h2v1h-2zM922 596h2v1h-2zM1049 596h1v1h-1zM448 597h3v1h-3zM520 597h1v1h-1zM1050 597h1v1h-1zM443 598h2v1h-2zM521 598h2v1h-2zM918 598h1v1h-1zM442 599h1v1h-1zM916 599h2v1h-2zM1054 599h1v1h-1zM438 600h1v1h-1zM526 600h3v1h-3zM1055 600h2v1h-2zM436 601h2v1h-2zM430 602h3v1h-3zM532 602h3v1h-3zM911 602h2v1h-2zM424 603h3v1h-3zM538 603h1v1h-1zM910 603h1v1h-1zM1060 603h2v1h-2zM419 604h2v1h-2zM539 604h2v1h-2zM1062 604h1v1h-1zM418 605h1v1h-1zM544 605h1v1h-1zM906 605h1v1h-1zM412 606h3v1h-3zM545 606h2v1h-2zM904 606h2v1h-2zM1066 606h2v1h-2zM401 607h2v1h-2zM406 607h3v1h-3zM658 607h3v1h-3zM664 607h1v1h-1zM1068 607h1v1h-1zM395 608h2v1h-2zM400 608h1v1h-1zM550 608h3v1h-3zM652 608h3v1h-3zM665 608h2v1h-2zM670 608h1v1h-1zM900 608h1v1h-1zM394 609h1v1h-1zM647 609h2v1h-2zM671 609h2v1h-2zM898 609h2v1h-2zM1072 609h2v1h-2zM346 610h3v1h-3zM352 610h3v1h-3zM358 610h3v1h-3zM364 610h3v1h-3zM370 610h3v1h-3zM376 610h3v1h-3zM382 610h3v1h-3zM388 610h3v1h-3zM556 610h2v1h-2zM635 610h2v1h-2zM640 610h3v1h-3zM646 610h1v1h-1zM676 610h2v1h-2zM1074 610h1v1h-1zM340 611h3v1h-3zM558 611h1v1h-1zM634 611h1v1h-1zM678 611h1v1h-1zM894 611h1v1h-1zM335 612h2v1h-2zM562 612h1v1h-1zM630 612h1v1h-1zM892 612h2v1h-2zM1078 612h1v1h-1zM334 613h1v1h-1zM563 613h2v1h-2zM628 613h2v1h-2zM682 613h2v1h-2zM1079 613h2v1h-2zM328 614h3v1h-3zM568 614h3v1h-3zM622 614h3v1h-3zM684 614h1v1h-1zM324 615h1v1h-1zM574 615h1v1h-1zM616 615h3v1h-3zM688 615h1v1h-1zM887 615h2v1h-2zM322 616h2v1h-2zM575 616h2v1h-2zM610 616h3v1h-3zM689 616h2v1h-2zM886 616h1v1h-1zM1084 616h2v1h-2zM580 617h3v1h-3zM604 617h3v1h-3zM1086 617h1v1h-1zM318 618h1v1h-1zM586 618h3v1h-3zM592 618h3v1h-3zM598 618h3v1h-3zM694 618h2v1h-2zM880 618h3v1h-3zM316 619h2v1h-2zM696 619h1v1h-1zM875 619h2v1h-2zM1090 619h2v1h-2zM874 620h1v1h-1zM1092 620h1v1h-1zM700 621h1v1h-1zM870 621h1v1h-1zM311 622h2v1h-2zM701 622h2v1h-2zM868 622h2v1h-2zM1096 622h2v1h-2zM310 623h1v1h-1zM863 623h2v1h-2zM1098 623h1v1h-1zM862 624h1v1h-1zM706 625h2v1h-2zM856 625h3v1h-3zM1102 625h3v1h-3zM305 626h2v1h-2zM708 626h1v1h-1zM852 626h1v1h-1zM304 627h1v1h-1zM850 627h2v1h-2zM1108 627h3v1h-3zM712 628h2v1h-2zM1114 628h1v1h-1zM714 629h1v1h-1zM846 629h1v1h-1zM1115 629h1v1h-1zM300 630h1v1h-1zM844 630h2v1h-2zM298 631h2v1h-2zM718 631h2v1h-2zM838 631h3v1h-3zM720 632h1v1h-1zM832 632h3v1h-3zM294 633h1v1h-1zM827 633h2v1h-2zM292 634h2v1h-2zM724 634h2v1h-2zM826 634h1v1h-1zM726 635h1v1h-1zM822 635h1v1h-1zM820 636h2v1h-2zM4 637h3v1h-3zM288 637h1v1h-1zM730 637h2v1h-2zM815 637h2v1h-2zM10 638h3v1h-3zM16 638h1v1h-1zM287 638h1v1h-1zM732 638h1v1h-1zM814 638h1v1h-1zM17 639h2v1h-2zM22 639h3v1h-3zM286 639h1v1h-1zM736 639h1v1h-1zM808 639h3v1h-3zM28 640h3v1h-3zM65 640h2v1h-2zM70 640h3v1h-3zM76 640h3v1h-3zM82 640h3v1h-3zM88 640h3v1h-3zM94 640h3v1h-3zM100 640h3v1h-3zM106 640h3v1h-3zM112 640h1v1h-1zM737 640h2v1h-2zM803 640h2v1h-2zM34 641h3v1h-3zM59 641h2v1h-2zM64 641h1v1h-1zM113 641h2v1h-2zM118 641h3v1h-3zM282 641h1v1h-1zM802 641h1v1h-1zM40 642h3v1h-3zM58 642h1v1h-1zM124 642h2v1h-2zM281 642h1v1h-1zM742 642h3v1h-3zM796 642h3v1h-3zM46 643h3v1h-3zM52 643h3v1h-3zM126 643h1v1h-1zM280 643h1v1h-1zM791 643h2v1h-2zM130 644h1v1h-1zM748 644h3v1h-3zM785 644h2v1h-2zM790 644h1v1h-1zM131 645h2v1h-2zM136 645h1v1h-1zM276 645h1v1h-1zM754 645h1v1h-1zM778 645h3v1h-3zM784 645h1v1h-1zM137 646h2v1h-2zM142 646h1v1h-1zM274 646h2v1h-2zM755 646h2v1h-2zM760 646h3v1h-3zM766 646h3v1h-3zM772 646h3v1h-3zM143 647h2v1h-2zM148 648h3v1h-3zM154 649h1v1h-1zM269 649h2v1h-2zM155 650h2v1h-2zM160 650h1v1h-1zM268 650h1v1h-1zM161 651h2v1h-2zM166 651h3v1h-3zM172 651h3v1h-3zM178 652h3v1h-3zM262 652h3v1h-3zM184 653h3v1h-3zM190 654h3v1h-3zM257 654h2v1h-2zM196 655h3v1h-3zM256 655h1v1h-1zM202 656h3v1h-3zM208 656h3v1h-3zM214 656h3v1h-3zM220 656h3v1h-3zM226 656h3v1h-3zM232 656h3v1h-3zM238 656h3v1h-3zM244 656h3v1h-3zM250 656h3v1h-3z" fill="#ff0000"/>
<path d="M4 711.5H1419M4 762.5H1419" stroke="#c0c0c0" stroke-width="1" stroke-dasharray="3 3" fill="none"/>
<path d="M913 697h6v1h-6zM908 698h5v1h-5zM919 698h4v1h-4zM906 699h2v1h-2zM923 699h3v1h-3zM905 700h1v1h-1zM926 700h2v1h-2zM884 701h2v1h-2zM903 701h2v1h-2zM928 701h2v1h-2zM882 702h2v1h-2zM886 702h3v1h-3zM901 702h2v1h-2zM930 702h2v1h-2zM945 702h6v1h-6zM881 703h1v1h-1zM889 703h2v1h-2zM897 703h4v1h-4zM932 703h13v1h-13zM951 703h4v1h-4zM879 704h2v1h-2zM891 704h6v1h-6zM955 704h2v1h-2zM877 705h2v1h-2zM957 705h1v1h-1zM876 706h1v1h-1zM958 706h1v1h-1zM875 707h1v1h-1zM959 707h1v1h-1zM873 708h2v1h-2zM960 708v2h1v-2zM444 709h1v1h-1zM872 709h1v1h-1zM972 709h1v1h-1zM442 710h2v1h-2zM445 710v2h1v-2zM871 710h1v1h-1zM961 710h1v1h-1zM970 710h2v1h-2zM973 710h1v1h-1zM440 711h2v1h-2zM596 711h1v1h-1zM869 711h2v1h-2zM962 711h1v1h-1zM968 711h2v1h-2zM974 711h1v1h-1zM438 712h2v1h-2zM446 712h1v1h-1zM595 712v2h1v-2zM597 712v2h1v-2zM868 712h1v1h-1zM963 712h1v1h-1zM966 712h2v1h-2zM975 712h1v1h-1zM435 713h3v1h-3zM447 713v2h1v-2zM867 713h1v1h-1zM964 713h2v1h-2zM976 713v2h1v-2zM433 714h2v1h-2zM594 714v2h1v-2zM598 714h1v1h-1zM866 714v2h1v-2zM1004 714h9v1h-9zM430 715h3v1h-3zM448 715h1v1h-1zM599 715h1v1h-1zM977 715h1v1h-1zM1002 715h2v1h-2zM1012 715h1v1h-1zM396 716h9v1h-9zM428 716h2v1h-2zM449 716v2h1v-2zM593 716h1v1h-1zM600 716v2h1v-2zM865 716h1v1h-1zM978 716h1v1h-1zM1001 716h1v1h-1zM1013 716v2h1v-2zM394 717h2v1h-2zM405 717h1v1h-1zM427 717h1v1h-1zM592 717v2h1v-2zM620 717h1v1h-1zM864 717h1v1h-1zM979 717h1v1h-1zM999 717h2v1h-2zM393 718h1v1h-1zM406 718h1v1h-1zM426 718h1v1h-1zM450 718h1v1h-1zM601 718h1v1h-1zM618 718h2v1h-2zM621 718h1v1h-1zM863 718h1v1h-1zM980 718h2v1h-2zM997 718h2v1h-2zM1014 718v2h1v-2zM391 719h2v1h-2zM407 719h2v1h-2zM425 719h1v1h-1zM451 719v2h1v-2zM591 719h1v1h-1zM602 719h1v1h-1zM616 719h2v1h-2zM622 719h1v1h-1zM862 719v2h1v-2zM982 719h2v1h-2zM995 719h2v1h-2zM389 720h2v1h-2zM409 720h1v1h-1zM424 720v2h1v-2zM590 720v2h1v-2zM603 720v2h1v-2zM614 720h2v1h-2zM623 720h1v1h-1zM984 720h2v1h-2zM993 720h2v1h-2zM1015 720v2h1v-2zM387 721h2v1h-2zM410 721h1v1h-1zM452 721h13v1h-13zM609 721h5v1h-5zM624 721h1v1h-1zM861 721h1v1h-1zM986 721h2v1h-2zM990 721h3v1h-3zM385 722h2v1h-2zM411 722h1v1h-1zM423 722h1v1h-1zM465 722h12v1h-12zM589 722v2h1v-2zM604 722h5v1h-5zM625 722h1v1h-1zM860 722h1v1h-1zM988 722h2v1h-2zM1016 722v3h1v-3zM283 723h10v1h-10zM382 723h3v1h-3zM412 723h3v1h-3zM422 723h1v1h-1zM477 723h1v1h-1zM580 723h5v1h-5zM626 723h1v1h-1zM858 723h2v1h-2zM279 724h4v1h-4zM293 724h2v1h-2zM380 724h2v1h-2zM415 724h4v1h-4zM421 724h1v1h-1zM478 724v2h1v-2zM579 724v2h1v-2zM585 724h4v1h-4zM627 724h1v1h-1zM856 724h2v1h-2zM267 725h12v1h-12zM295 725h2v1h-2zM378 725h2v1h-2zM419 725h2v1h-2zM628 725h1v1h-1zM833 725h16v1h-16zM854 725h2v1h-2zM1017 725v2h1v-2zM263 726h4v1h-4zM297 726h1v1h-1zM376 726h2v1h-2zM479 726h1v1h-1zM578 726v2h1v-2zM629 726h1v1h-1zM828 726h5v1h-5zM849 726h5v1h-5zM259 727h4v1h-4zM298 727h2v1h-2zM305 727h4v1h-4zM374 727h2v1h-2zM480 727h1v1h-1zM630 727v2h1v-2zM827 727h1v1h-1zM1018 727v2h1v-2zM257 728h2v1h-2zM300 728h5v1h-5zM309 728h2v1h-2zM364 728h10v1h-10zM481 728h1v1h-1zM577 728v2h1v-2zM826 728h1v1h-1zM254 729h3v1h-3zM311 729h2v1h-2zM340 729h2v1h-2zM362 729h2v1h-2zM482 729v2h1v-2zM631 729h1v1h-1zM825 729h1v1h-1zM1019 729v2h1v-2zM252 730h2v1h-2zM313 730h1v1h-1zM338 730h2v1h-2zM342 730h3v1h-3zM360 730h2v1h-2zM576 730h1v1h-1zM632 730h1v1h-1zM823 730h2v1h-2zM250 731h2v1h-2zM314 731h2v1h-2zM337 731h1v1h-1zM345 731h2v1h-2zM358 731h2v1h-2zM483 731h1v1h-1zM575 731v2h1v-2zM633 731h1v1h-1zM822 731h1v1h-1zM1020 731v2h1v-2zM28 732h9v1h-9zM248 732h2v1h-2zM316 732h5v1h-5zM335 732h2v1h-2zM347 732h11v1h-11zM484 732h3v1h-3zM634 732v2h1v-2zM788 732h19v1h-19zM821 732h1v1h-1zM27 733h1v1h-1zM37 733v2h1v-2zM246 733h2v1h-2zM321 733h8v1h-8zM333 733h2v1h-2zM487 733h4v1h-4zM497 733h6v1h-6zM574 733v2h1v-2zM764 733h2v1h-2zM787 733h1v1h-1zM807 733h4v1h-4zM817 733h4v1h-4zM1021 733h1v1h-1zM26 734h1v1h-1zM244 734h2v1h-2zM329 734h4v1h-4zM491 734h6v1h-6zM503 734h4v1h-4zM539 734h2v1h-2zM635 734h1v1h-1zM763 734v2h1v-2zM766 734h2v1h-2zM786 734h1v1h-1zM811 734h6v1h-6zM1022 734h1v1h-1zM25 735h1v1h-1zM38 735h1v1h-1zM243 735h1v1h-1zM507 735h22v1h-22zM535 735h4v1h-4zM541 735h1v1h-1zM573 735v2h1v-2zM636 735h5v1h-5zM768 735h2v1h-2zM785 735h1v1h-1zM1023 735h1v1h-1zM24 736v2h1v-2zM39 736h1v1h-1zM108 736h1v1h-1zM242 736v2h1v-2zM529 736h6v1h-6zM542 736v2h1v-2zM641 736h6v1h-6zM762 736h1v1h-1zM770 736h2v1h-2zM783 736h2v1h-2zM1024 736v2h1v-2zM40 737v2h1v-2zM76 737h5v1h-5zM107 737v2h1v-2zM109 737h1v1h-1zM571 737h2v1h-2zM647 737h4v1h-4zM761 737v2h1v-2zM772 737h3v1h-3zM782 737h1v1h-1zM23 738h1v1h-1zM75 738v2h1v-2zM81 738h4v1h-4zM110 738h1v1h-1zM156 738h2v1h-2zM241 738h1v1h-1zM543 738h1v1h-1zM556 738h5v1h-5zM567 738h4v1h-4zM651 738h11v1h-11zM775 738h4v1h-4zM781 738h1v1h-1zM1025 738h1v1h-1zM22 739h1v1h-1zM41 739h1v1h-1zM85 739v2h1v-2zM106 739v2h1v-2zM111 739h1v1h-1zM155 739v2h1v-2zM158 739h3v1h-3zM240 739h1v1h-1zM544 739h1v1h-1zM555 739h1v1h-1zM561 739h6v1h-6zM662 739h3v1h-3zM760 739h1v1h-1zM779 739h2v1h-2zM1026 739h1v1h-1zM1075 739h4v1h-4zM1100 739h2v1h-2zM21 740h1v1h-1zM42 740h1v1h-1zM60 740h1v1h-1zM74 740v2h1v-2zM112 740v2h1v-2zM161 740h2v1h-2zM212 740h18v1h-18zM239 740h1v1h-1zM545 740h1v1h-1zM553 740h2v1h-2zM665 740h2v1h-2zM759 740v2h1v-2zM1027 740h1v1h-1zM1073 740h2v1h-2zM1079 740h4v1h-4zM1099 740h1v1h-1zM1102 740h2v1h-2zM19 741h2v1h-2zM43 741v2h1v-2zM58 741h2v1h-2zM61 741v2h1v-2zM86 741h1v1h-1zM105 741h1v1h-1zM154 741h1v1h-1zM163 741h6v1h-6zM212 741h1v1h-1zM230 741h2v1h-2zM238 741v2h1v-2zM546 741v2h1v-2zM552 741h1v1h-1zM667 741h2v1h-2zM1028 741h2v1h-2zM1070 741h3v1h-3zM1083 741h3v1h-3zM1097 741h2v1h-2zM1104 741h2v1h-2zM17 742h2v1h-2zM56 742h2v1h-2zM73 742v2h1v-2zM87 742v2h1v-2zM104 742v2h1v-2zM113 742h1v1h-1zM153 742v2h1v-2zM169 742h6v1h-6zM211 742v2h1v-2zM232 742h2v1h-2zM551 742h1v1h-1zM669 742h2v1h-2zM758 742h1v1h-1zM1030 742h2v1h-2zM1068 742h2v1h-2zM1086 742h2v1h-2zM1096 742h1v1h-1zM1106 742h2v1h-2zM4 743h5v1h-5zM14 743h3v1h-3zM44 743h5v1h-5zM54 743h2v1h-2zM62 743v2h1v-2zM114 743h1v1h-1zM175 743h4v1h-4zM234 743h2v1h-2zM237 743h1v1h-1zM547 743h1v1h-1zM549 743h2v1h-2zM671 743h2v1h-2zM747 743h4v1h-4zM757 743v2h1v-2zM1032 743h2v1h-2zM1066 743h2v1h-2zM1088 743h2v1h-2zM1095 743h1v1h-1zM1108 743h8v1h-8zM9 744h5v1h-5zM49 744h5v1h-5zM72 744v2h1v-2zM88 744h1v1h-1zM103 744h1v1h-1zM115 744h1v1h-1zM152 744h1v1h-1zM179 744h2v1h-2zM210 744v2h1v-2zM236 744h1v1h-1zM548 744h1v1h-1zM673 744h1v1h-1zM745 744h2v1h-2zM751 744h4v1h-4zM1034 744h2v1h-2zM1064 744h2v1h-2zM1090 744h2v1h-2zM1093 744h2v1h-2zM63 745h1v1h-1zM89 745v2h1v-2zM102 745v2h1v-2zM116 745h3v1h-3zM151 745v2h1v-2zM181 745h1v1h-1zM674 745h2v1h-2zM742 745h3v1h-3zM755 745h2v1h-2zM1036 745h1v1h-1zM1052 745h5v1h-5zM1062 745h2v1h-2zM1092 745h1v1h-1zM64 746v2h1v-2zM71 746v2h1v-2zM119 746h4v1h-4zM182 746h1v1h-1zM209 746v2h1v-2zM676 746h1v1h-1zM737 746h5v1h-5zM1037 746v2h1v-2zM1051 746v2h1v-2zM1057 746h5v1h-5zM90 747h1v1h-1zM101 747v2h1v-2zM123 747h4v1h-4zM150 747h1v1h-1zM183 747h1v1h-1zM677 747v2h1v-2zM731 747h6v1h-6zM65 748h1v1h-1zM70 748v2h1v-2zM91 748v2h1v-2zM127 748h4v1h-4zM149 748v2h1v-2zM184 748h1v1h-1zM208 748v2h1v-2zM729 748h2v1h-2zM1038 748h1v1h-1zM1050 748h1v1h-1zM66 749v2h1v-2zM97 749h4v1h-4zM131 749h3v1h-3zM185 749h1v1h-1zM195 749h2v1h-2zM678 749v2h1v-2zM726 749h3v1h-3zM1039 749h1v1h-1zM1049 749h1v1h-1zM69 750v2h1v-2zM92 750h5v1h-5zM134 750h3v1h-3zM147 750h2v1h-2zM186 750h1v1h-1zM193 750h2v1h-2zM197 750h1v1h-1zM207 750v2h1v-2zM700 750h3v1h-3zM724 750h2v1h-2zM1040 750v2h1v-2zM1048 750v2h1v-2zM67 751v2h1v-2zM137 751h2v1h-2zM143 751h4v1h-4zM187 751h1v1h-1zM190 751h3v1h-3zM198 751h1v1h-1zM679 751v2h1v-2zM699 751h1v1h-1zM703 751h4v1h-4zM722 751h2v1h-2zM68 752v2h1v-2zM139 752h4v1h-4zM188 752h2v1h-2zM199 752h1v1h-1zM206 752v2h1v-2zM698 752h1v1h-1zM707 752h4v1h-4zM720 752h2v1h-2zM1041 752h1v1h-1zM1047 752h1v1h-1zM200 753h1v1h-1zM680 753h1v1h-1zM697 753h1v1h-1zM711 753h4v1h-4zM718 753h2v1h-2zM1042 753h1v1h-1zM1046 753h1v1h-1zM201 754h1v1h-1zM205 754v2h1v-2zM681 754v2h1v-2zM696 754h1v1h-1zM715 754h3v1h-3zM1043 754v2h1v-2zM1045 754v2h1v-2zM202 755h1v1h-1zM695 755h1v1h-1zM203 756h2v1h-2zM682 756v2h1v-2zM694 756h1v1h-1zM1044 756h1v1h-1zM204 757h1v1h-1zM693 757h1v1h-1zM683 758v2h1v-2zM691 758h2v1h-2zM687 759h4v1h-4zM684 760h3v1h-3z" fill="#1e90ff"/>
</g>
<rect x="1421" y="189" width="41" height="11" fill="#000"/>
<path d="M7 32h7.4l-3.7 4z" fill="#000"/>
</svg>
<div class="t ax" style="left:1425px;top:29px;">1.02560</div>
<div class="t ax" style="left:1425px;top:62px;">1.02220</div>
<div class="t ax" style="left:1425px;top:95px;">1.01870</div>
<div class="t ax" style="left:1425px;top:128px;">1.01530</div>
<div class="t ax" style="left:1425px;top:161px;">1.01180</div>
<div class="t ax" style="left:1425px;top:194px;">1.00840</div>
<div class="t ax" style="left:1425px;top:227px;">1.00490</div>
<div class="t ax" style="left:1425px;top:260px;">1.00150</div>
<div class="t ax" style="left:1425px;top:293px;">0.99800</div>
<div class="t ax" style="left:1425px;top:326px;">0.99460</div>
<div class="t ax" style="left:1425px;top:359px;">0.99110</div>
<div class="t ax" style="left:1425px;top:392px;">0.98770</div>
<div class="t ax" style="left:1425px;top:425px;">0.98420</div>
<div class="t ax" style="left:1425px;top:458px;">0.98080</div>
<div class="t ax" style="left:1425px;top:491px;">0.97740</div>
<div class="t ax" style="left:1425px;top:524px;">0.97390</div>
<div class="t ax" style="left:1425px;top:557px;">0.97050</div>
<div class="t ax" style="left:1423px;top:569px;">0.00597</div>
<div class="t ax" style="left:1423px;top:623px;">0.00</div>
<div class="t ax" style="left:1423px;top:658px;">-0.004243</div>
<div class="t ax" style="left:1423px;top:674px;">100</div>
<div class="t ax" style="left:1422px;top:707px;">70</div>
<div class="t ax" style="left:1422px;top:757.5px;">30</div>
<div class="t ax" style="left:1423px;top:790px;">0</div>
<div class="t dt" style="left:3.5px;top:805.5px;">11 Dec 2018</div>
<div class="t dt" style="left:67.5px;top:805.5px;">20 Dec 2018</div>
<div class="t dt" style="left:131.5px;top:805.5px;">30 Dec 2018</div>
<div class="t dt" style="left:195.5px;top:805.5px;">8 Jan 2019</div>
<div class="t dt" style="left:259.5px;top:805.5px;">17 Jan 2019</div>
<div class="t dt" style="left:323.5px;top:805.5px;">27 Jan 2019</div>
<div class="t dt" style="left:387.5px;top:805.5px;">5 Feb 2019</div>
<div class="t dt" style="left:451.5px;top:805.5px;">14 Feb 2019</div>
<div class="t dt" style="left:515.5px;top:805.5px;">24 Feb 2019</div>
<div class="t dt" style="left:579.5px;top:805.5px;">5 Mar 2019</div>
<div class="t dt" style="left:643.5px;top:805.5px;">14 Mar 2019</div>
<div class="t dt" style="left:707.5px;top:805.5px;">24 Mar 2019</div>
<div class="t dt" style="left:771.5px;top:805.5px;">2 Apr 2019</div>
<div class="t dt" style="left:835.5px;top:805.5px;">11 Apr 2019</div>
<div class="t dt" style="left:899.5px;top:805.5px;">22 Apr 2019</div>
<div class="t dt" style="left:963.5px;top:805.5px;">1 May 2019</div>
<div class="t dt" style="left:1027.5px;top:805.5px;">10 May 2019</div>
<div class="t dt" style="left:1091.5px;top:805.5px;">20 May 2019</div>
<div class="t ti" style="left:19px;top:28.5px;letter-spacing:-0.06px">USDCHF-,Daily</div>
<div class="t ti" style="left:93.5px;top:28.5px;letter-spacing:-0.28px">1.00903 1.00933 1.00875 1.00877</div>
<div class="t ti" style="left:8.4px;top:570.5px;">MACD(12,26,9) -0.000710 -0.000202</div>
<div class="t ti" style="left:8.2px;top:675.5px;">RSI(14) 44.7142</div>
<div class="t ax" style="left:1425.5px;top:190px;color:#fff;-webkit-text-stroke:0.2px #fff;">1.00877</div>
<div id="botl1"></div>
<div id="tabs">
<div class="hl" style="left:1px;top:0;width:220px;height:1px"></div>
<div class="hl" style="left:329px;top:0;width:1134px;height:1px"></div>
<div class="hl" style="left:1px;top:0;width:1px;height:18px"></div>
<div class="hl" style="left:329px;top:0;width:1px;height:18px"></div>
<div class="hl" style="left:0;top:0;width:1px;height:18px;background:#696969"></div>
<div class="tab" style="left:16px">EURUSD-,Daily</div>
<div class="tsep" style="left:113px"></div>
<div class="tab" style="left:123px">AUDUSD-,Daily</div>
<div id="active">USDCHF-,Daily</div>
<div class="tab" style="left:340px">USDCAD-,Daily</div>
<div class="tsep" style="left:437px"></div>
<div class="tab" style="left:449px">USDCNH-,Daily</div>
<div class="tsep" style="left:549px"></div>
<div class="tab" style="left:560px">EURCHF-,Weekly</div>
<div class="tsep" style="left:669px"></div>
<svg width="30" height="10" viewBox="0 0 30 10" style="left:1432px;top:4px"><path d="M6.3 1v6.4l-3.6-3.2z" fill="#a0a0a0"/><path d="M22 1v6.4l3.6-3.2z" fill="#a0a0a0"/></svg>
</div>
</body></html>
